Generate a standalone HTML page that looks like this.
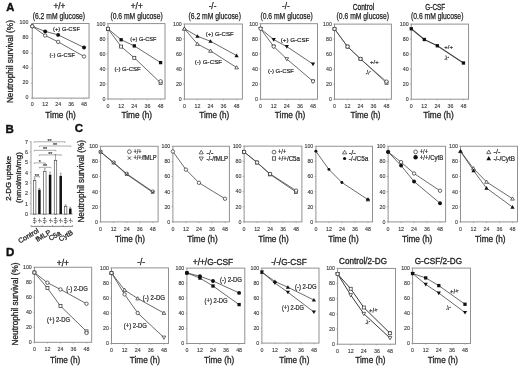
<!DOCTYPE html>
<html><head><meta charset="utf-8"><style>
html,body{margin:0;padding:0;background:#fff;width:520px;height:368px;overflow:hidden}
svg{display:block;font-family:"Liberation Sans", sans-serif;filter:blur(0.3px)}

</style></head><body>
<svg width="520" height="368" viewBox="0 0 520 368">
<rect width="520" height="368" fill="#fff"/>
<text x="10.30" y="11.30" font-size="11.2" text-anchor="middle" font-weight="bold" fill="#111" stroke="#111" stroke-width="0.4">A</text>
<text x="13.50" y="61.60" font-size="8.3" text-anchor="middle" fill="#262626" stroke="#262626" stroke-width="0.3" transform="rotate(-90 13.50 61.60)" textLength="83.00" lengthAdjust="spacingAndGlyphs">Neutrophil survival (%)</text>
<rect x="32.25" y="23.50" width="56.80" height="74.60" fill="none" stroke="#8c8c8c" stroke-width="0.95"/>
<line x1="30.95" y1="98.10" x2="32.25" y2="98.10" stroke="#8c8c8c" stroke-width="0.6"/>
<text x="28.45" y="98.80" font-size="5.3" text-anchor="end" fill="#3a3a3a" stroke="#3a3a3a" stroke-width="0.12">0</text>
<line x1="30.95" y1="83.18" x2="32.25" y2="83.18" stroke="#8c8c8c" stroke-width="0.6"/>
<text x="28.45" y="83.88" font-size="5.3" text-anchor="end" fill="#3a3a3a" stroke="#3a3a3a" stroke-width="0.12">20</text>
<line x1="30.95" y1="68.26" x2="32.25" y2="68.26" stroke="#8c8c8c" stroke-width="0.6"/>
<text x="28.45" y="68.96" font-size="5.3" text-anchor="end" fill="#3a3a3a" stroke="#3a3a3a" stroke-width="0.12">40</text>
<line x1="30.95" y1="53.34" x2="32.25" y2="53.34" stroke="#8c8c8c" stroke-width="0.6"/>
<text x="28.45" y="54.04" font-size="5.3" text-anchor="end" fill="#3a3a3a" stroke="#3a3a3a" stroke-width="0.12">60</text>
<line x1="30.95" y1="38.42" x2="32.25" y2="38.42" stroke="#8c8c8c" stroke-width="0.6"/>
<text x="28.45" y="39.12" font-size="5.3" text-anchor="end" fill="#3a3a3a" stroke="#3a3a3a" stroke-width="0.12">80</text>
<line x1="30.95" y1="23.50" x2="32.25" y2="23.50" stroke="#8c8c8c" stroke-width="0.6"/>
<text x="28.45" y="24.20" font-size="5.3" text-anchor="end" fill="#3a3a3a" stroke="#3a3a3a" stroke-width="0.12">100</text>
<line x1="32.25" y1="98.10" x2="32.25" y2="99.30" stroke="#8c8c8c" stroke-width="0.6"/>
<text x="32.25" y="106.30" font-size="5.3" text-anchor="middle" fill="#3a3a3a" stroke="#3a3a3a" stroke-width="0.12">0</text>
<line x1="45.20" y1="98.10" x2="45.20" y2="99.30" stroke="#8c8c8c" stroke-width="0.6"/>
<text x="45.20" y="106.30" font-size="5.3" text-anchor="middle" fill="#3a3a3a" stroke="#3a3a3a" stroke-width="0.12">12</text>
<line x1="58.15" y1="98.10" x2="58.15" y2="99.30" stroke="#8c8c8c" stroke-width="0.6"/>
<text x="58.15" y="106.30" font-size="5.3" text-anchor="middle" fill="#3a3a3a" stroke="#3a3a3a" stroke-width="0.12">24</text>
<line x1="71.10" y1="98.10" x2="71.10" y2="99.30" stroke="#8c8c8c" stroke-width="0.6"/>
<text x="71.10" y="106.30" font-size="5.3" text-anchor="middle" fill="#3a3a3a" stroke="#3a3a3a" stroke-width="0.12">36</text>
<line x1="84.05" y1="98.10" x2="84.05" y2="99.30" stroke="#8c8c8c" stroke-width="0.6"/>
<text x="84.05" y="106.30" font-size="5.3" text-anchor="middle" fill="#3a3a3a" stroke="#3a3a3a" stroke-width="0.12">48</text>
<text x="45.30" y="117.80" font-size="8.9" text-anchor="start" fill="#262626" stroke="#262626" stroke-width="0.3" textLength="30.50" lengthAdjust="spacingAndGlyphs">Time (h)</text>
<path d="M32.25,26.30 L45.20,31.40 L58.15,34.90 L84.05,47.50" fill="none" stroke="#3a3a3a" stroke-width="0.75"/>
<path d="M32.25,26.30 L45.20,35.50 L58.15,41.90 L84.05,56.50" fill="none" stroke="#3a3a3a" stroke-width="0.75"/>
<circle cx="32.25" cy="26.30" r="1.95" fill="#111"/>
<circle cx="45.20" cy="31.40" r="1.95" fill="#111"/>
<circle cx="58.15" cy="34.90" r="1.95" fill="#111"/>
<circle cx="84.05" cy="47.50" r="1.95" fill="#111"/>
<circle cx="32.25" cy="26.30" r="1.70" fill="#fff" stroke="#2a2a2a" stroke-width="0.7"/>
<circle cx="45.20" cy="35.50" r="1.70" fill="#fff" stroke="#2a2a2a" stroke-width="0.7"/>
<circle cx="58.15" cy="41.90" r="1.70" fill="#fff" stroke="#2a2a2a" stroke-width="0.7"/>
<circle cx="84.05" cy="56.50" r="1.70" fill="#fff" stroke="#2a2a2a" stroke-width="0.7"/>
<rect x="108.00" y="23.60" width="57.00" height="75.40" fill="none" stroke="#8c8c8c" stroke-width="0.95"/>
<line x1="106.70" y1="99.00" x2="108.00" y2="99.00" stroke="#8c8c8c" stroke-width="0.6"/>
<text x="105.40" y="100.90" font-size="5.3" text-anchor="end" fill="#3a3a3a" stroke="#3a3a3a" stroke-width="0.12">0</text>
<line x1="106.70" y1="83.92" x2="108.00" y2="83.92" stroke="#8c8c8c" stroke-width="0.6"/>
<text x="105.40" y="85.82" font-size="5.3" text-anchor="end" fill="#3a3a3a" stroke="#3a3a3a" stroke-width="0.12">20</text>
<line x1="106.70" y1="68.84" x2="108.00" y2="68.84" stroke="#8c8c8c" stroke-width="0.6"/>
<text x="105.40" y="70.74" font-size="5.3" text-anchor="end" fill="#3a3a3a" stroke="#3a3a3a" stroke-width="0.12">40</text>
<line x1="106.70" y1="53.76" x2="108.00" y2="53.76" stroke="#8c8c8c" stroke-width="0.6"/>
<text x="105.40" y="55.66" font-size="5.3" text-anchor="end" fill="#3a3a3a" stroke="#3a3a3a" stroke-width="0.12">60</text>
<line x1="106.70" y1="38.68" x2="108.00" y2="38.68" stroke="#8c8c8c" stroke-width="0.6"/>
<text x="105.40" y="40.58" font-size="5.3" text-anchor="end" fill="#3a3a3a" stroke="#3a3a3a" stroke-width="0.12">80</text>
<line x1="106.70" y1="23.60" x2="108.00" y2="23.60" stroke="#8c8c8c" stroke-width="0.6"/>
<text x="105.40" y="25.50" font-size="5.3" text-anchor="end" fill="#3a3a3a" stroke="#3a3a3a" stroke-width="0.12">100</text>
<line x1="108.00" y1="99.00" x2="108.00" y2="100.20" stroke="#8c8c8c" stroke-width="0.6"/>
<text x="108.00" y="107.80" font-size="5.3" text-anchor="middle" fill="#3a3a3a" stroke="#3a3a3a" stroke-width="0.12">0</text>
<line x1="121.15" y1="99.00" x2="121.15" y2="100.20" stroke="#8c8c8c" stroke-width="0.6"/>
<text x="121.15" y="107.80" font-size="5.3" text-anchor="middle" fill="#3a3a3a" stroke="#3a3a3a" stroke-width="0.12">12</text>
<line x1="134.30" y1="99.00" x2="134.30" y2="100.20" stroke="#8c8c8c" stroke-width="0.6"/>
<text x="134.30" y="107.80" font-size="5.3" text-anchor="middle" fill="#3a3a3a" stroke="#3a3a3a" stroke-width="0.12">24</text>
<line x1="147.45" y1="99.00" x2="147.45" y2="100.20" stroke="#8c8c8c" stroke-width="0.6"/>
<text x="147.45" y="107.80" font-size="5.3" text-anchor="middle" fill="#3a3a3a" stroke="#3a3a3a" stroke-width="0.12">36</text>
<line x1="160.60" y1="99.00" x2="160.60" y2="100.20" stroke="#8c8c8c" stroke-width="0.6"/>
<text x="160.60" y="107.80" font-size="5.3" text-anchor="middle" fill="#3a3a3a" stroke="#3a3a3a" stroke-width="0.12">48</text>
<text x="121.50" y="118.20" font-size="8.9" text-anchor="start" fill="#262626" stroke="#262626" stroke-width="0.3" textLength="30.50" lengthAdjust="spacingAndGlyphs">Time (h)</text>
<path d="M108.00,28.80 L121.15,39.75 L134.30,45.90 L160.60,62.60" fill="none" stroke="#3a3a3a" stroke-width="0.75"/>
<path d="M108.00,28.80 L121.15,46.60 L134.30,57.80 L160.60,82.90" fill="none" stroke="#3a3a3a" stroke-width="0.75"/>
<rect x="106.35" y="27.15" width="3.30" height="3.30" fill="#111"/>
<rect x="119.50" y="38.10" width="3.30" height="3.30" fill="#111"/>
<rect x="132.65" y="44.25" width="3.30" height="3.30" fill="#111"/>
<rect x="158.95" y="60.95" width="3.30" height="3.30" fill="#111"/>
<rect x="106.50" y="27.30" width="3.00" height="3.00" fill="#fff" stroke="#2a2a2a" stroke-width="0.7"/>
<rect x="119.65" y="45.10" width="3.00" height="3.00" fill="#fff" stroke="#2a2a2a" stroke-width="0.7"/>
<rect x="132.80" y="56.30" width="3.00" height="3.00" fill="#fff" stroke="#2a2a2a" stroke-width="0.7"/>
<rect x="159.10" y="81.40" width="3.00" height="3.00" fill="#fff" stroke="#2a2a2a" stroke-width="0.7"/>
<circle cx="108.00" cy="28.80" r="1.70" fill="#fff" stroke="#2a2a2a" stroke-width="0.7"/>
<circle cx="160.60" cy="81.30" r="1.70" fill="#fff" stroke="#2a2a2a" stroke-width="0.7"/>
<rect x="184.40" y="24.00" width="58.00" height="75.10" fill="none" stroke="#8c8c8c" stroke-width="0.95"/>
<line x1="183.10" y1="99.10" x2="184.40" y2="99.10" stroke="#8c8c8c" stroke-width="0.6"/>
<text x="181.80" y="101.00" font-size="5.3" text-anchor="end" fill="#3a3a3a" stroke="#3a3a3a" stroke-width="0.12">0</text>
<line x1="183.10" y1="84.08" x2="184.40" y2="84.08" stroke="#8c8c8c" stroke-width="0.6"/>
<text x="181.80" y="85.98" font-size="5.3" text-anchor="end" fill="#3a3a3a" stroke="#3a3a3a" stroke-width="0.12">20</text>
<line x1="183.10" y1="69.06" x2="184.40" y2="69.06" stroke="#8c8c8c" stroke-width="0.6"/>
<text x="181.80" y="70.96" font-size="5.3" text-anchor="end" fill="#3a3a3a" stroke="#3a3a3a" stroke-width="0.12">40</text>
<line x1="183.10" y1="54.04" x2="184.40" y2="54.04" stroke="#8c8c8c" stroke-width="0.6"/>
<text x="181.80" y="55.94" font-size="5.3" text-anchor="end" fill="#3a3a3a" stroke="#3a3a3a" stroke-width="0.12">60</text>
<line x1="183.10" y1="39.02" x2="184.40" y2="39.02" stroke="#8c8c8c" stroke-width="0.6"/>
<text x="181.80" y="40.92" font-size="5.3" text-anchor="end" fill="#3a3a3a" stroke="#3a3a3a" stroke-width="0.12">80</text>
<line x1="183.10" y1="24.00" x2="184.40" y2="24.00" stroke="#8c8c8c" stroke-width="0.6"/>
<text x="181.80" y="25.90" font-size="5.3" text-anchor="end" fill="#3a3a3a" stroke="#3a3a3a" stroke-width="0.12">100</text>
<line x1="184.40" y1="99.10" x2="184.40" y2="100.30" stroke="#8c8c8c" stroke-width="0.6"/>
<text x="184.40" y="107.90" font-size="5.3" text-anchor="middle" fill="#3a3a3a" stroke="#3a3a3a" stroke-width="0.12">0</text>
<line x1="197.45" y1="99.10" x2="197.45" y2="100.30" stroke="#8c8c8c" stroke-width="0.6"/>
<text x="197.45" y="107.90" font-size="5.3" text-anchor="middle" fill="#3a3a3a" stroke="#3a3a3a" stroke-width="0.12">12</text>
<line x1="210.50" y1="99.10" x2="210.50" y2="100.30" stroke="#8c8c8c" stroke-width="0.6"/>
<text x="210.50" y="107.90" font-size="5.3" text-anchor="middle" fill="#3a3a3a" stroke="#3a3a3a" stroke-width="0.12">24</text>
<line x1="223.55" y1="99.10" x2="223.55" y2="100.30" stroke="#8c8c8c" stroke-width="0.6"/>
<text x="223.55" y="107.90" font-size="5.3" text-anchor="middle" fill="#3a3a3a" stroke="#3a3a3a" stroke-width="0.12">36</text>
<line x1="236.60" y1="99.10" x2="236.60" y2="100.30" stroke="#8c8c8c" stroke-width="0.6"/>
<text x="236.60" y="107.90" font-size="5.3" text-anchor="middle" fill="#3a3a3a" stroke="#3a3a3a" stroke-width="0.12">48</text>
<text x="199.30" y="118.20" font-size="8.9" text-anchor="start" fill="#262626" stroke="#262626" stroke-width="0.3" textLength="30.00" lengthAdjust="spacingAndGlyphs">Time (h)</text>
<path d="M184.40,28.75 L197.45,36.25 L210.50,41.25 L236.60,55.60" fill="none" stroke="#3a3a3a" stroke-width="0.75"/>
<path d="M184.40,28.75 L197.45,44.00 L210.50,50.90 L236.60,67.50" fill="none" stroke="#3a3a3a" stroke-width="0.75"/>
<polygon points="184.40,26.65 186.50,30.32 182.30,30.32" fill="#111"/>
<polygon points="197.45,34.15 199.55,37.83 195.35,37.83" fill="#111"/>
<polygon points="210.50,39.15 212.60,42.83 208.40,42.83" fill="#111"/>
<polygon points="236.60,53.50 238.70,57.18 234.50,57.18" fill="#111"/>
<polygon points="184.40,26.90 186.25,30.14 182.55,30.14" fill="#fff" stroke="#2a2a2a" stroke-width="0.7"/>
<polygon points="197.45,42.15 199.30,45.39 195.60,45.39" fill="#fff" stroke="#2a2a2a" stroke-width="0.7"/>
<polygon points="210.50,49.05 212.35,52.29 208.65,52.29" fill="#fff" stroke="#2a2a2a" stroke-width="0.7"/>
<polygon points="236.60,65.65 238.45,68.89 234.75,68.89" fill="#fff" stroke="#2a2a2a" stroke-width="0.7"/>
<rect x="260.60" y="23.70" width="56.90" height="75.50" fill="none" stroke="#8c8c8c" stroke-width="0.95"/>
<line x1="259.30" y1="99.20" x2="260.60" y2="99.20" stroke="#8c8c8c" stroke-width="0.6"/>
<text x="258.00" y="101.10" font-size="5.3" text-anchor="end" fill="#3a3a3a" stroke="#3a3a3a" stroke-width="0.12">0</text>
<line x1="259.30" y1="84.10" x2="260.60" y2="84.10" stroke="#8c8c8c" stroke-width="0.6"/>
<text x="258.00" y="86.00" font-size="5.3" text-anchor="end" fill="#3a3a3a" stroke="#3a3a3a" stroke-width="0.12">20</text>
<line x1="259.30" y1="69.00" x2="260.60" y2="69.00" stroke="#8c8c8c" stroke-width="0.6"/>
<text x="258.00" y="70.90" font-size="5.3" text-anchor="end" fill="#3a3a3a" stroke="#3a3a3a" stroke-width="0.12">40</text>
<line x1="259.30" y1="53.90" x2="260.60" y2="53.90" stroke="#8c8c8c" stroke-width="0.6"/>
<text x="258.00" y="55.80" font-size="5.3" text-anchor="end" fill="#3a3a3a" stroke="#3a3a3a" stroke-width="0.12">60</text>
<line x1="259.30" y1="38.80" x2="260.60" y2="38.80" stroke="#8c8c8c" stroke-width="0.6"/>
<text x="258.00" y="40.70" font-size="5.3" text-anchor="end" fill="#3a3a3a" stroke="#3a3a3a" stroke-width="0.12">80</text>
<line x1="259.30" y1="23.70" x2="260.60" y2="23.70" stroke="#8c8c8c" stroke-width="0.6"/>
<text x="258.00" y="25.60" font-size="5.3" text-anchor="end" fill="#3a3a3a" stroke="#3a3a3a" stroke-width="0.12">100</text>
<line x1="260.60" y1="99.20" x2="260.60" y2="100.40" stroke="#8c8c8c" stroke-width="0.6"/>
<text x="260.60" y="108.00" font-size="5.3" text-anchor="middle" fill="#3a3a3a" stroke="#3a3a3a" stroke-width="0.12">0</text>
<line x1="273.70" y1="99.20" x2="273.70" y2="100.40" stroke="#8c8c8c" stroke-width="0.6"/>
<text x="273.70" y="108.00" font-size="5.3" text-anchor="middle" fill="#3a3a3a" stroke="#3a3a3a" stroke-width="0.12">12</text>
<line x1="286.80" y1="99.20" x2="286.80" y2="100.40" stroke="#8c8c8c" stroke-width="0.6"/>
<text x="286.80" y="108.00" font-size="5.3" text-anchor="middle" fill="#3a3a3a" stroke="#3a3a3a" stroke-width="0.12">24</text>
<line x1="299.90" y1="99.20" x2="299.90" y2="100.40" stroke="#8c8c8c" stroke-width="0.6"/>
<text x="299.90" y="108.00" font-size="5.3" text-anchor="middle" fill="#3a3a3a" stroke="#3a3a3a" stroke-width="0.12">36</text>
<line x1="313.00" y1="99.20" x2="313.00" y2="100.40" stroke="#8c8c8c" stroke-width="0.6"/>
<text x="313.00" y="108.00" font-size="5.3" text-anchor="middle" fill="#3a3a3a" stroke="#3a3a3a" stroke-width="0.12">48</text>
<text x="274.80" y="118.20" font-size="8.9" text-anchor="start" fill="#262626" stroke="#262626" stroke-width="0.3" textLength="30.50" lengthAdjust="spacingAndGlyphs">Time (h)</text>
<path d="M260.60,28.75 L273.70,39.60 L286.80,46.60 L313.00,64.10" fill="none" stroke="#3a3a3a" stroke-width="0.75"/>
<path d="M260.60,28.75 L273.70,46.50 L286.80,59.00 L313.00,81.30" fill="none" stroke="#3a3a3a" stroke-width="0.75"/>
<polygon points="260.60,30.85 262.70,27.18 258.50,27.18" fill="#111"/>
<polygon points="273.70,41.70 275.80,38.02 271.60,38.02" fill="#111"/>
<polygon points="286.80,48.70 288.90,45.02 284.70,45.02" fill="#111"/>
<polygon points="313.00,66.20 315.10,62.52 310.90,62.52" fill="#111"/>
<polygon points="260.60,30.60 262.45,27.36 258.75,27.36" fill="#fff" stroke="#2a2a2a" stroke-width="0.7"/>
<polygon points="273.70,48.35 275.55,45.11 271.85,45.11" fill="#fff" stroke="#2a2a2a" stroke-width="0.7"/>
<polygon points="286.80,60.85 288.65,57.61 284.95,57.61" fill="#fff" stroke="#2a2a2a" stroke-width="0.7"/>
<polygon points="313.00,83.15 314.85,79.91 311.15,79.91" fill="#fff" stroke="#2a2a2a" stroke-width="0.7"/>
<circle cx="260.60" cy="28.75" r="1.70" fill="#fff" stroke="#2a2a2a" stroke-width="0.7"/>
<circle cx="273.70" cy="46.50" r="1.70" fill="#fff" stroke="#2a2a2a" stroke-width="0.7"/>
<circle cx="313.00" cy="81.30" r="1.70" fill="#fff" stroke="#2a2a2a" stroke-width="0.7"/>
<rect x="334.50" y="24.10" width="56.90" height="75.10" fill="none" stroke="#8c8c8c" stroke-width="0.95"/>
<line x1="333.20" y1="99.20" x2="334.50" y2="99.20" stroke="#8c8c8c" stroke-width="0.6"/>
<text x="331.90" y="101.10" font-size="5.3" text-anchor="end" fill="#3a3a3a" stroke="#3a3a3a" stroke-width="0.12">0</text>
<line x1="333.20" y1="84.18" x2="334.50" y2="84.18" stroke="#8c8c8c" stroke-width="0.6"/>
<text x="331.90" y="86.08" font-size="5.3" text-anchor="end" fill="#3a3a3a" stroke="#3a3a3a" stroke-width="0.12">20</text>
<line x1="333.20" y1="69.16" x2="334.50" y2="69.16" stroke="#8c8c8c" stroke-width="0.6"/>
<text x="331.90" y="71.06" font-size="5.3" text-anchor="end" fill="#3a3a3a" stroke="#3a3a3a" stroke-width="0.12">40</text>
<line x1="333.20" y1="54.14" x2="334.50" y2="54.14" stroke="#8c8c8c" stroke-width="0.6"/>
<text x="331.90" y="56.04" font-size="5.3" text-anchor="end" fill="#3a3a3a" stroke="#3a3a3a" stroke-width="0.12">60</text>
<line x1="333.20" y1="39.12" x2="334.50" y2="39.12" stroke="#8c8c8c" stroke-width="0.6"/>
<text x="331.90" y="41.02" font-size="5.3" text-anchor="end" fill="#3a3a3a" stroke="#3a3a3a" stroke-width="0.12">80</text>
<line x1="333.20" y1="24.10" x2="334.50" y2="24.10" stroke="#8c8c8c" stroke-width="0.6"/>
<text x="331.90" y="26.00" font-size="5.3" text-anchor="end" fill="#3a3a3a" stroke="#3a3a3a" stroke-width="0.12">100</text>
<line x1="334.50" y1="99.20" x2="334.50" y2="100.40" stroke="#8c8c8c" stroke-width="0.6"/>
<text x="334.50" y="108.00" font-size="5.3" text-anchor="middle" fill="#3a3a3a" stroke="#3a3a3a" stroke-width="0.12">0</text>
<line x1="347.50" y1="99.20" x2="347.50" y2="100.40" stroke="#8c8c8c" stroke-width="0.6"/>
<text x="347.50" y="108.00" font-size="5.3" text-anchor="middle" fill="#3a3a3a" stroke="#3a3a3a" stroke-width="0.12">12</text>
<line x1="360.50" y1="99.20" x2="360.50" y2="100.40" stroke="#8c8c8c" stroke-width="0.6"/>
<text x="360.50" y="108.00" font-size="5.3" text-anchor="middle" fill="#3a3a3a" stroke="#3a3a3a" stroke-width="0.12">24</text>
<line x1="373.50" y1="99.20" x2="373.50" y2="100.40" stroke="#8c8c8c" stroke-width="0.6"/>
<text x="373.50" y="108.00" font-size="5.3" text-anchor="middle" fill="#3a3a3a" stroke="#3a3a3a" stroke-width="0.12">36</text>
<line x1="386.50" y1="99.20" x2="386.50" y2="100.40" stroke="#8c8c8c" stroke-width="0.6"/>
<text x="386.50" y="108.00" font-size="5.3" text-anchor="middle" fill="#3a3a3a" stroke="#3a3a3a" stroke-width="0.12">48</text>
<text x="350.60" y="118.20" font-size="8.9" text-anchor="start" fill="#262626" stroke="#262626" stroke-width="0.3" textLength="30.00" lengthAdjust="spacingAndGlyphs">Time (h)</text>
<path d="M334.50,28.90 L347.50,46.60 L360.50,58.90 L386.50,82.80" fill="none" stroke="#3a3a3a" stroke-width="0.8"/>
<path d="M334.50,28.90 L347.50,46.60 L360.50,58.90 L386.50,81.60" fill="none" stroke="#3a3a3a" stroke-width="0.6"/>
<rect x="333.00" y="27.40" width="3.00" height="3.00" fill="#fff" stroke="#2a2a2a" stroke-width="0.7"/>
<rect x="346.00" y="45.10" width="3.00" height="3.00" fill="#fff" stroke="#2a2a2a" stroke-width="0.7"/>
<rect x="359.00" y="57.40" width="3.00" height="3.00" fill="#fff" stroke="#2a2a2a" stroke-width="0.7"/>
<rect x="385.00" y="81.30" width="3.00" height="3.00" fill="#fff" stroke="#2a2a2a" stroke-width="0.7"/>
<circle cx="334.50" cy="28.90" r="1.70" fill="#fff" stroke="#2a2a2a" stroke-width="0.7"/>
<circle cx="347.50" cy="46.60" r="1.70" fill="#fff" stroke="#2a2a2a" stroke-width="0.7"/>
<circle cx="360.50" cy="58.90" r="1.70" fill="#fff" stroke="#2a2a2a" stroke-width="0.7"/>
<circle cx="386.50" cy="81.60" r="1.70" fill="#fff" stroke="#2a2a2a" stroke-width="0.7"/>
<rect x="411.25" y="24.10" width="57.30" height="75.10" fill="none" stroke="#8c8c8c" stroke-width="0.95"/>
<line x1="409.95" y1="99.20" x2="411.25" y2="99.20" stroke="#8c8c8c" stroke-width="0.6"/>
<text x="408.65" y="101.10" font-size="5.3" text-anchor="end" fill="#3a3a3a" stroke="#3a3a3a" stroke-width="0.12">0</text>
<line x1="409.95" y1="84.18" x2="411.25" y2="84.18" stroke="#8c8c8c" stroke-width="0.6"/>
<text x="408.65" y="86.08" font-size="5.3" text-anchor="end" fill="#3a3a3a" stroke="#3a3a3a" stroke-width="0.12">20</text>
<line x1="409.95" y1="69.16" x2="411.25" y2="69.16" stroke="#8c8c8c" stroke-width="0.6"/>
<text x="408.65" y="71.06" font-size="5.3" text-anchor="end" fill="#3a3a3a" stroke="#3a3a3a" stroke-width="0.12">40</text>
<line x1="409.95" y1="54.14" x2="411.25" y2="54.14" stroke="#8c8c8c" stroke-width="0.6"/>
<text x="408.65" y="56.04" font-size="5.3" text-anchor="end" fill="#3a3a3a" stroke="#3a3a3a" stroke-width="0.12">60</text>
<line x1="409.95" y1="39.12" x2="411.25" y2="39.12" stroke="#8c8c8c" stroke-width="0.6"/>
<text x="408.65" y="41.02" font-size="5.3" text-anchor="end" fill="#3a3a3a" stroke="#3a3a3a" stroke-width="0.12">80</text>
<line x1="409.95" y1="24.10" x2="411.25" y2="24.10" stroke="#8c8c8c" stroke-width="0.6"/>
<text x="408.65" y="26.00" font-size="5.3" text-anchor="end" fill="#3a3a3a" stroke="#3a3a3a" stroke-width="0.12">100</text>
<line x1="411.25" y1="99.20" x2="411.25" y2="100.40" stroke="#8c8c8c" stroke-width="0.6"/>
<text x="411.25" y="108.00" font-size="5.3" text-anchor="middle" fill="#3a3a3a" stroke="#3a3a3a" stroke-width="0.12">0</text>
<line x1="424.30" y1="99.20" x2="424.30" y2="100.40" stroke="#8c8c8c" stroke-width="0.6"/>
<text x="424.30" y="108.00" font-size="5.3" text-anchor="middle" fill="#3a3a3a" stroke="#3a3a3a" stroke-width="0.12">12</text>
<line x1="437.35" y1="99.20" x2="437.35" y2="100.40" stroke="#8c8c8c" stroke-width="0.6"/>
<text x="437.35" y="108.00" font-size="5.3" text-anchor="middle" fill="#3a3a3a" stroke="#3a3a3a" stroke-width="0.12">24</text>
<line x1="450.40" y1="99.20" x2="450.40" y2="100.40" stroke="#8c8c8c" stroke-width="0.6"/>
<text x="450.40" y="108.00" font-size="5.3" text-anchor="middle" fill="#3a3a3a" stroke="#3a3a3a" stroke-width="0.12">36</text>
<line x1="463.45" y1="99.20" x2="463.45" y2="100.40" stroke="#8c8c8c" stroke-width="0.6"/>
<text x="463.45" y="108.00" font-size="5.3" text-anchor="middle" fill="#3a3a3a" stroke="#3a3a3a" stroke-width="0.12">48</text>
<text x="423.20" y="118.20" font-size="8.9" text-anchor="start" fill="#262626" stroke="#262626" stroke-width="0.3" textLength="30.50" lengthAdjust="spacingAndGlyphs">Time (h)</text>
<path d="M411.25,28.75 L424.30,39.50 L437.35,45.75 L463.45,63.00" fill="none" stroke="#3a3a3a" stroke-width="1.05"/>
<rect x="409.60" y="27.10" width="3.30" height="3.30" fill="#111"/>
<rect x="422.65" y="37.85" width="3.30" height="3.30" fill="#111"/>
<rect x="435.70" y="44.10" width="3.30" height="3.30" fill="#111"/>
<rect x="461.80" y="61.35" width="3.30" height="3.30" fill="#111"/>
<text x="59.40" y="9.30" font-size="8.2" text-anchor="middle" fill="#222" stroke="#222" stroke-width="0.25">+/+</text>
<text x="58.90" y="18.80" font-size="8.4" text-anchor="middle" fill="#222" stroke="#222" stroke-width="0.25" textLength="52.40" lengthAdjust="spacingAndGlyphs">(6.2 mM glucose)</text>
<text x="136.75" y="9.30" font-size="8.2" text-anchor="middle" fill="#222" stroke="#222" stroke-width="0.25">+/+</text>
<text x="136.60" y="18.80" font-size="8.4" text-anchor="middle" fill="#222" stroke="#222" stroke-width="0.25" textLength="52.40" lengthAdjust="spacingAndGlyphs">(0.6 mM glucose)</text>
<text x="212.50" y="9.30" font-size="8.2" text-anchor="middle" fill="#222" stroke="#222" stroke-width="0.25">-/-</text>
<text x="214.70" y="18.80" font-size="8.4" text-anchor="middle" fill="#222" stroke="#222" stroke-width="0.25" textLength="52.40" lengthAdjust="spacingAndGlyphs">(6.2 mM glucose)</text>
<text x="285.90" y="9.30" font-size="8.2" text-anchor="middle" fill="#222" stroke="#222" stroke-width="0.25">-/-</text>
<text x="286.60" y="18.80" font-size="8.4" text-anchor="middle" fill="#222" stroke="#222" stroke-width="0.25" textLength="52.40" lengthAdjust="spacingAndGlyphs">(0.6 mM glucose)</text>
<text x="363.40" y="10.00" font-size="8.7" text-anchor="middle" fill="#222" stroke="#222" stroke-width="0.3" textLength="21.50" lengthAdjust="spacingAndGlyphs">Control</text>
<text x="362.80" y="18.80" font-size="8.4" text-anchor="middle" fill="#222" stroke="#222" stroke-width="0.25" textLength="52.40" lengthAdjust="spacingAndGlyphs">(0.6 mM glucose)</text>
<text x="435.30" y="10.00" font-size="8.7" text-anchor="middle" fill="#222" stroke="#222" stroke-width="0.3" textLength="20.00" lengthAdjust="spacingAndGlyphs">G-CSF</text>
<text x="437.20" y="18.80" font-size="8.4" text-anchor="middle" fill="#222" stroke="#222" stroke-width="0.25" textLength="52.40" lengthAdjust="spacingAndGlyphs">(0.6 mM glucose)</text>
<text x="53.00" y="31.40" font-size="6.1" text-anchor="start" fill="#262626" stroke="#262626" stroke-width="0.2" textLength="27.00" lengthAdjust="spacingAndGlyphs">(+) G-CSF</text>
<text x="49.60" y="57.00" font-size="6.1" text-anchor="start" fill="#262626" stroke="#262626" stroke-width="0.2" textLength="25.60" lengthAdjust="spacingAndGlyphs">(-) G-CSF</text>
<text x="130.30" y="41.40" font-size="6.1" text-anchor="start" fill="#262626" stroke="#262626" stroke-width="0.2" textLength="26.20" lengthAdjust="spacingAndGlyphs">(+) G-CSF</text>
<text x="114.40" y="70.80" font-size="6.1" text-anchor="start" fill="#262626" stroke="#262626" stroke-width="0.2" textLength="26.40" lengthAdjust="spacingAndGlyphs">(-) G-CSF</text>
<text x="205.70" y="36.30" font-size="6.1" text-anchor="start" fill="#262626" stroke="#262626" stroke-width="0.2" textLength="28.00" lengthAdjust="spacingAndGlyphs">(+) G-CSF</text>
<text x="194.70" y="63.50" font-size="6.1" text-anchor="start" fill="#262626" stroke="#262626" stroke-width="0.2" textLength="27.50" lengthAdjust="spacingAndGlyphs">(-) G-CSF</text>
<text x="280.80" y="41.60" font-size="6.1" text-anchor="start" fill="#262626" stroke="#262626" stroke-width="0.2" textLength="28.50" lengthAdjust="spacingAndGlyphs">(+) G-CSF</text>
<text x="268.00" y="72.80" font-size="6.1" text-anchor="start" fill="#262626" stroke="#262626" stroke-width="0.2" textLength="26.00" lengthAdjust="spacingAndGlyphs">(-) G-CSF</text>
<text x="374.40" y="64.40" font-size="6.0" text-anchor="middle" fill="#262626" stroke="#262626" stroke-width="0.2">+/+</text>
<text x="369.00" y="74.20" font-size="6.0" text-anchor="middle" fill="#262626" stroke="#262626" stroke-width="0.2" transform="rotate(-30 369.00 74.20)">-/-</text>
<text x="448.70" y="49.10" font-size="6.0" text-anchor="middle" fill="#262626" stroke="#262626" stroke-width="0.2">+/+</text>
<text x="447.60" y="59.60" font-size="6.0" text-anchor="middle" fill="#262626" stroke="#262626" stroke-width="0.2" transform="rotate(-30 447.60 59.60)">-/-</text>
<text x="79.00" y="131.80" font-size="11.5" text-anchor="middle" font-weight="bold" fill="#111" stroke="#111" stroke-width="0.4">C</text>
<text x="84.30" y="181.30" font-size="8.3" text-anchor="middle" fill="#262626" stroke="#262626" stroke-width="0.3" transform="rotate(-90 84.30 181.30)" textLength="82.50" lengthAdjust="spacingAndGlyphs">Neutrophil survival (%)</text>
<rect x="100.60" y="146.25" width="57.50" height="75.65" fill="none" stroke="#8c8c8c" stroke-width="0.95"/>
<line x1="99.30" y1="221.90" x2="100.60" y2="221.90" stroke="#8c8c8c" stroke-width="0.6"/>
<text x="98.00" y="223.80" font-size="5.3" text-anchor="end" fill="#3a3a3a" stroke="#3a3a3a" stroke-width="0.12">0</text>
<line x1="99.30" y1="206.77" x2="100.60" y2="206.77" stroke="#8c8c8c" stroke-width="0.6"/>
<text x="98.00" y="208.67" font-size="5.3" text-anchor="end" fill="#3a3a3a" stroke="#3a3a3a" stroke-width="0.12">20</text>
<line x1="99.30" y1="191.64" x2="100.60" y2="191.64" stroke="#8c8c8c" stroke-width="0.6"/>
<text x="98.00" y="193.54" font-size="5.3" text-anchor="end" fill="#3a3a3a" stroke="#3a3a3a" stroke-width="0.12">40</text>
<line x1="99.30" y1="176.51" x2="100.60" y2="176.51" stroke="#8c8c8c" stroke-width="0.6"/>
<text x="98.00" y="178.41" font-size="5.3" text-anchor="end" fill="#3a3a3a" stroke="#3a3a3a" stroke-width="0.12">60</text>
<line x1="99.30" y1="161.38" x2="100.60" y2="161.38" stroke="#8c8c8c" stroke-width="0.6"/>
<text x="98.00" y="163.28" font-size="5.3" text-anchor="end" fill="#3a3a3a" stroke="#3a3a3a" stroke-width="0.12">80</text>
<line x1="99.30" y1="146.25" x2="100.60" y2="146.25" stroke="#8c8c8c" stroke-width="0.6"/>
<text x="98.00" y="148.15" font-size="5.3" text-anchor="end" fill="#3a3a3a" stroke="#3a3a3a" stroke-width="0.12">100</text>
<line x1="100.60" y1="221.90" x2="100.60" y2="223.10" stroke="#8c8c8c" stroke-width="0.6"/>
<text x="100.60" y="230.50" font-size="5.3" text-anchor="middle" fill="#3a3a3a" stroke="#3a3a3a" stroke-width="0.12">0</text>
<line x1="113.64" y1="221.90" x2="113.64" y2="223.10" stroke="#8c8c8c" stroke-width="0.6"/>
<text x="113.64" y="230.50" font-size="5.3" text-anchor="middle" fill="#3a3a3a" stroke="#3a3a3a" stroke-width="0.12">12</text>
<line x1="126.68" y1="221.90" x2="126.68" y2="223.10" stroke="#8c8c8c" stroke-width="0.6"/>
<text x="126.68" y="230.50" font-size="5.3" text-anchor="middle" fill="#3a3a3a" stroke="#3a3a3a" stroke-width="0.12">24</text>
<line x1="139.72" y1="221.90" x2="139.72" y2="223.10" stroke="#8c8c8c" stroke-width="0.6"/>
<text x="139.72" y="230.50" font-size="5.3" text-anchor="middle" fill="#3a3a3a" stroke="#3a3a3a" stroke-width="0.12">36</text>
<line x1="152.76" y1="221.90" x2="152.76" y2="223.10" stroke="#8c8c8c" stroke-width="0.6"/>
<text x="152.76" y="230.50" font-size="5.3" text-anchor="middle" fill="#3a3a3a" stroke="#3a3a3a" stroke-width="0.12">48</text>
<text x="115.00" y="241.80" font-size="8.9" text-anchor="start" fill="#262626" stroke="#262626" stroke-width="0.3" textLength="30.00" lengthAdjust="spacingAndGlyphs">Time (h)</text>
<path d="M100.60,151.90 L113.64,162.50 L126.68,173.75 L152.76,191.60" fill="none" stroke="#3a3a3a" stroke-width="0.75"/>
<path d="M100.60,151.90 L113.64,162.90 L126.68,174.40 L152.76,192.40" fill="none" stroke="#3a3a3a" stroke-width="0.75"/>
<circle cx="100.60" cy="151.90" r="1.70" fill="#fff" stroke="#2a2a2a" stroke-width="0.7"/>
<circle cx="113.64" cy="162.50" r="1.70" fill="#fff" stroke="#2a2a2a" stroke-width="0.7"/>
<circle cx="126.68" cy="173.75" r="1.70" fill="#fff" stroke="#2a2a2a" stroke-width="0.7"/>
<circle cx="152.76" cy="191.60" r="1.70" fill="#fff" stroke="#2a2a2a" stroke-width="0.7"/>
<path d="M99.10,150.40L102.10,153.40M99.10,153.40L102.10,150.40" stroke="#111" stroke-width="0.7" fill="none"/>
<path d="M112.14,161.40L115.14,164.40M112.14,164.40L115.14,161.40" stroke="#111" stroke-width="0.7" fill="none"/>
<path d="M125.18,172.90L128.18,175.90M125.18,175.90L128.18,172.90" stroke="#111" stroke-width="0.7" fill="none"/>
<path d="M151.26,190.90L154.26,193.90M151.26,193.90L154.26,190.90" stroke="#111" stroke-width="0.7" fill="none"/>
<rect x="172.90" y="146.25" width="56.50" height="75.65" fill="none" stroke="#8c8c8c" stroke-width="0.95"/>
<line x1="171.60" y1="221.90" x2="172.90" y2="221.90" stroke="#8c8c8c" stroke-width="0.6"/>
<text x="170.30" y="223.80" font-size="5.3" text-anchor="end" fill="#3a3a3a" stroke="#3a3a3a" stroke-width="0.12">0</text>
<line x1="171.60" y1="206.77" x2="172.90" y2="206.77" stroke="#8c8c8c" stroke-width="0.6"/>
<text x="170.30" y="208.67" font-size="5.3" text-anchor="end" fill="#3a3a3a" stroke="#3a3a3a" stroke-width="0.12">20</text>
<line x1="171.60" y1="191.64" x2="172.90" y2="191.64" stroke="#8c8c8c" stroke-width="0.6"/>
<text x="170.30" y="193.54" font-size="5.3" text-anchor="end" fill="#3a3a3a" stroke="#3a3a3a" stroke-width="0.12">40</text>
<line x1="171.60" y1="176.51" x2="172.90" y2="176.51" stroke="#8c8c8c" stroke-width="0.6"/>
<text x="170.30" y="178.41" font-size="5.3" text-anchor="end" fill="#3a3a3a" stroke="#3a3a3a" stroke-width="0.12">60</text>
<line x1="171.60" y1="161.38" x2="172.90" y2="161.38" stroke="#8c8c8c" stroke-width="0.6"/>
<text x="170.30" y="163.28" font-size="5.3" text-anchor="end" fill="#3a3a3a" stroke="#3a3a3a" stroke-width="0.12">80</text>
<line x1="171.60" y1="146.25" x2="172.90" y2="146.25" stroke="#8c8c8c" stroke-width="0.6"/>
<text x="170.30" y="148.15" font-size="5.3" text-anchor="end" fill="#3a3a3a" stroke="#3a3a3a" stroke-width="0.12">100</text>
<line x1="172.90" y1="221.90" x2="172.90" y2="223.10" stroke="#8c8c8c" stroke-width="0.6"/>
<text x="172.90" y="230.50" font-size="5.3" text-anchor="middle" fill="#3a3a3a" stroke="#3a3a3a" stroke-width="0.12">0</text>
<line x1="185.93" y1="221.90" x2="185.93" y2="223.10" stroke="#8c8c8c" stroke-width="0.6"/>
<text x="185.93" y="230.50" font-size="5.3" text-anchor="middle" fill="#3a3a3a" stroke="#3a3a3a" stroke-width="0.12">12</text>
<line x1="198.96" y1="221.90" x2="198.96" y2="223.10" stroke="#8c8c8c" stroke-width="0.6"/>
<text x="198.96" y="230.50" font-size="5.3" text-anchor="middle" fill="#3a3a3a" stroke="#3a3a3a" stroke-width="0.12">24</text>
<line x1="211.99" y1="221.90" x2="211.99" y2="223.10" stroke="#8c8c8c" stroke-width="0.6"/>
<text x="211.99" y="230.50" font-size="5.3" text-anchor="middle" fill="#3a3a3a" stroke="#3a3a3a" stroke-width="0.12">36</text>
<line x1="225.02" y1="221.90" x2="225.02" y2="223.10" stroke="#8c8c8c" stroke-width="0.6"/>
<text x="225.02" y="230.50" font-size="5.3" text-anchor="middle" fill="#3a3a3a" stroke="#3a3a3a" stroke-width="0.12">48</text>
<text x="187.20" y="241.80" font-size="8.9" text-anchor="start" fill="#262626" stroke="#262626" stroke-width="0.3" textLength="30.50" lengthAdjust="spacingAndGlyphs">Time (h)</text>
<path d="M172.90,151.50 L185.93,169.60 L198.96,182.80 L225.02,198.75" fill="none" stroke="#3a3a3a" stroke-width="0.75"/>
<circle cx="172.90" cy="151.50" r="1.70" fill="#fff" stroke="#2a2a2a" stroke-width="0.7"/>
<circle cx="185.93" cy="169.60" r="1.70" fill="#fff" stroke="#2a2a2a" stroke-width="0.7"/>
<circle cx="198.96" cy="182.80" r="1.70" fill="#fff" stroke="#2a2a2a" stroke-width="0.7"/>
<circle cx="225.02" cy="198.75" r="1.70" fill="#fff" stroke="#2a2a2a" stroke-width="0.7"/>
<rect x="244.10" y="146.10" width="57.80" height="75.80" fill="none" stroke="#8c8c8c" stroke-width="0.95"/>
<line x1="242.80" y1="221.90" x2="244.10" y2="221.90" stroke="#8c8c8c" stroke-width="0.6"/>
<text x="241.50" y="223.80" font-size="5.3" text-anchor="end" fill="#3a3a3a" stroke="#3a3a3a" stroke-width="0.12">0</text>
<line x1="242.80" y1="206.74" x2="244.10" y2="206.74" stroke="#8c8c8c" stroke-width="0.6"/>
<text x="241.50" y="208.64" font-size="5.3" text-anchor="end" fill="#3a3a3a" stroke="#3a3a3a" stroke-width="0.12">20</text>
<line x1="242.80" y1="191.58" x2="244.10" y2="191.58" stroke="#8c8c8c" stroke-width="0.6"/>
<text x="241.50" y="193.48" font-size="5.3" text-anchor="end" fill="#3a3a3a" stroke="#3a3a3a" stroke-width="0.12">40</text>
<line x1="242.80" y1="176.42" x2="244.10" y2="176.42" stroke="#8c8c8c" stroke-width="0.6"/>
<text x="241.50" y="178.32" font-size="5.3" text-anchor="end" fill="#3a3a3a" stroke="#3a3a3a" stroke-width="0.12">60</text>
<line x1="242.80" y1="161.26" x2="244.10" y2="161.26" stroke="#8c8c8c" stroke-width="0.6"/>
<text x="241.50" y="163.16" font-size="5.3" text-anchor="end" fill="#3a3a3a" stroke="#3a3a3a" stroke-width="0.12">80</text>
<line x1="242.80" y1="146.10" x2="244.10" y2="146.10" stroke="#8c8c8c" stroke-width="0.6"/>
<text x="241.50" y="148.00" font-size="5.3" text-anchor="end" fill="#3a3a3a" stroke="#3a3a3a" stroke-width="0.12">100</text>
<line x1="244.10" y1="221.90" x2="244.10" y2="223.10" stroke="#8c8c8c" stroke-width="0.6"/>
<text x="244.10" y="230.50" font-size="5.3" text-anchor="middle" fill="#3a3a3a" stroke="#3a3a3a" stroke-width="0.12">0</text>
<line x1="257.10" y1="221.90" x2="257.10" y2="223.10" stroke="#8c8c8c" stroke-width="0.6"/>
<text x="257.10" y="230.50" font-size="5.3" text-anchor="middle" fill="#3a3a3a" stroke="#3a3a3a" stroke-width="0.12">12</text>
<line x1="270.10" y1="221.90" x2="270.10" y2="223.10" stroke="#8c8c8c" stroke-width="0.6"/>
<text x="270.10" y="230.50" font-size="5.3" text-anchor="middle" fill="#3a3a3a" stroke="#3a3a3a" stroke-width="0.12">24</text>
<line x1="283.10" y1="221.90" x2="283.10" y2="223.10" stroke="#8c8c8c" stroke-width="0.6"/>
<text x="283.10" y="230.50" font-size="5.3" text-anchor="middle" fill="#3a3a3a" stroke="#3a3a3a" stroke-width="0.12">36</text>
<line x1="296.10" y1="221.90" x2="296.10" y2="223.10" stroke="#8c8c8c" stroke-width="0.6"/>
<text x="296.10" y="230.50" font-size="5.3" text-anchor="middle" fill="#3a3a3a" stroke="#3a3a3a" stroke-width="0.12">48</text>
<text x="258.30" y="241.80" font-size="8.9" text-anchor="start" fill="#262626" stroke="#262626" stroke-width="0.3" textLength="30.50" lengthAdjust="spacingAndGlyphs">Time (h)</text>
<path d="M244.10,151.90 L257.10,162.50 L270.10,174.40 L296.10,192.00" fill="none" stroke="#3a3a3a" stroke-width="0.75"/>
<path d="M244.10,151.90 L257.10,162.50 L270.10,173.90 L296.10,190.60" fill="none" stroke="#3a3a3a" stroke-width="0.75"/>
<rect x="242.60" y="150.40" width="3.00" height="3.00" fill="#fff" stroke="#2a2a2a" stroke-width="0.7"/>
<rect x="255.60" y="161.00" width="3.00" height="3.00" fill="#fff" stroke="#2a2a2a" stroke-width="0.7"/>
<rect x="268.60" y="172.90" width="3.00" height="3.00" fill="#fff" stroke="#2a2a2a" stroke-width="0.7"/>
<rect x="294.60" y="190.50" width="3.00" height="3.00" fill="#fff" stroke="#2a2a2a" stroke-width="0.7"/>
<circle cx="244.10" cy="151.90" r="1.70" fill="#fff" stroke="#2a2a2a" stroke-width="0.7"/>
<circle cx="257.10" cy="162.50" r="1.70" fill="#fff" stroke="#2a2a2a" stroke-width="0.7"/>
<circle cx="270.10" cy="173.90" r="1.70" fill="#fff" stroke="#2a2a2a" stroke-width="0.7"/>
<circle cx="296.10" cy="190.60" r="1.70" fill="#fff" stroke="#2a2a2a" stroke-width="0.7"/>
<rect x="315.90" y="146.25" width="56.60" height="75.65" fill="none" stroke="#8c8c8c" stroke-width="0.95"/>
<line x1="314.60" y1="221.90" x2="315.90" y2="221.90" stroke="#8c8c8c" stroke-width="0.6"/>
<text x="313.30" y="223.80" font-size="5.3" text-anchor="end" fill="#3a3a3a" stroke="#3a3a3a" stroke-width="0.12">0</text>
<line x1="314.60" y1="206.77" x2="315.90" y2="206.77" stroke="#8c8c8c" stroke-width="0.6"/>
<text x="313.30" y="208.67" font-size="5.3" text-anchor="end" fill="#3a3a3a" stroke="#3a3a3a" stroke-width="0.12">20</text>
<line x1="314.60" y1="191.64" x2="315.90" y2="191.64" stroke="#8c8c8c" stroke-width="0.6"/>
<text x="313.30" y="193.54" font-size="5.3" text-anchor="end" fill="#3a3a3a" stroke="#3a3a3a" stroke-width="0.12">40</text>
<line x1="314.60" y1="176.51" x2="315.90" y2="176.51" stroke="#8c8c8c" stroke-width="0.6"/>
<text x="313.30" y="178.41" font-size="5.3" text-anchor="end" fill="#3a3a3a" stroke="#3a3a3a" stroke-width="0.12">60</text>
<line x1="314.60" y1="161.38" x2="315.90" y2="161.38" stroke="#8c8c8c" stroke-width="0.6"/>
<text x="313.30" y="163.28" font-size="5.3" text-anchor="end" fill="#3a3a3a" stroke="#3a3a3a" stroke-width="0.12">80</text>
<line x1="314.60" y1="146.25" x2="315.90" y2="146.25" stroke="#8c8c8c" stroke-width="0.6"/>
<text x="313.30" y="148.15" font-size="5.3" text-anchor="end" fill="#3a3a3a" stroke="#3a3a3a" stroke-width="0.12">100</text>
<line x1="315.90" y1="221.90" x2="315.90" y2="223.10" stroke="#8c8c8c" stroke-width="0.6"/>
<text x="315.90" y="230.50" font-size="5.3" text-anchor="middle" fill="#3a3a3a" stroke="#3a3a3a" stroke-width="0.12">0</text>
<line x1="328.90" y1="221.90" x2="328.90" y2="223.10" stroke="#8c8c8c" stroke-width="0.6"/>
<text x="328.90" y="230.50" font-size="5.3" text-anchor="middle" fill="#3a3a3a" stroke="#3a3a3a" stroke-width="0.12">12</text>
<line x1="341.90" y1="221.90" x2="341.90" y2="223.10" stroke="#8c8c8c" stroke-width="0.6"/>
<text x="341.90" y="230.50" font-size="5.3" text-anchor="middle" fill="#3a3a3a" stroke="#3a3a3a" stroke-width="0.12">24</text>
<line x1="354.90" y1="221.90" x2="354.90" y2="223.10" stroke="#8c8c8c" stroke-width="0.6"/>
<text x="354.90" y="230.50" font-size="5.3" text-anchor="middle" fill="#3a3a3a" stroke="#3a3a3a" stroke-width="0.12">36</text>
<line x1="367.90" y1="221.90" x2="367.90" y2="223.10" stroke="#8c8c8c" stroke-width="0.6"/>
<text x="367.90" y="230.50" font-size="5.3" text-anchor="middle" fill="#3a3a3a" stroke="#3a3a3a" stroke-width="0.12">48</text>
<text x="328.20" y="241.80" font-size="8.9" text-anchor="start" fill="#262626" stroke="#262626" stroke-width="0.3" textLength="30.50" lengthAdjust="spacingAndGlyphs">Time (h)</text>
<path d="M315.90,151.25 L328.90,169.40 L341.90,182.50 L367.90,199.60" fill="none" stroke="#3a3a3a" stroke-width="0.75"/>
<circle cx="315.90" cy="151.25" r="1.45" fill="#111"/>
<circle cx="328.90" cy="169.40" r="1.45" fill="#111"/>
<circle cx="341.90" cy="182.50" r="1.45" fill="#111"/>
<circle cx="367.90" cy="199.60" r="1.45" fill="#111"/>
<polygon points="367.90,197.75 369.75,200.99 366.05,200.99" fill="#fff" stroke="#2a2a2a" stroke-width="0.7"/>
<circle cx="367.90" cy="199.60" r="1.45" fill="#111"/>
<rect x="388.10" y="146.25" width="57.50" height="75.65" fill="none" stroke="#8c8c8c" stroke-width="0.95"/>
<line x1="386.80" y1="221.90" x2="388.10" y2="221.90" stroke="#8c8c8c" stroke-width="0.6"/>
<text x="385.50" y="223.80" font-size="5.3" text-anchor="end" fill="#3a3a3a" stroke="#3a3a3a" stroke-width="0.12">0</text>
<line x1="386.80" y1="206.77" x2="388.10" y2="206.77" stroke="#8c8c8c" stroke-width="0.6"/>
<text x="385.50" y="208.67" font-size="5.3" text-anchor="end" fill="#3a3a3a" stroke="#3a3a3a" stroke-width="0.12">20</text>
<line x1="386.80" y1="191.64" x2="388.10" y2="191.64" stroke="#8c8c8c" stroke-width="0.6"/>
<text x="385.50" y="193.54" font-size="5.3" text-anchor="end" fill="#3a3a3a" stroke="#3a3a3a" stroke-width="0.12">40</text>
<line x1="386.80" y1="176.51" x2="388.10" y2="176.51" stroke="#8c8c8c" stroke-width="0.6"/>
<text x="385.50" y="178.41" font-size="5.3" text-anchor="end" fill="#3a3a3a" stroke="#3a3a3a" stroke-width="0.12">60</text>
<line x1="386.80" y1="161.38" x2="388.10" y2="161.38" stroke="#8c8c8c" stroke-width="0.6"/>
<text x="385.50" y="163.28" font-size="5.3" text-anchor="end" fill="#3a3a3a" stroke="#3a3a3a" stroke-width="0.12">80</text>
<line x1="386.80" y1="146.25" x2="388.10" y2="146.25" stroke="#8c8c8c" stroke-width="0.6"/>
<text x="385.50" y="148.15" font-size="5.3" text-anchor="end" fill="#3a3a3a" stroke="#3a3a3a" stroke-width="0.12">100</text>
<line x1="388.10" y1="221.90" x2="388.10" y2="223.10" stroke="#8c8c8c" stroke-width="0.6"/>
<text x="388.10" y="230.50" font-size="5.3" text-anchor="middle" fill="#3a3a3a" stroke="#3a3a3a" stroke-width="0.12">0</text>
<line x1="401.08" y1="221.90" x2="401.08" y2="223.10" stroke="#8c8c8c" stroke-width="0.6"/>
<text x="401.08" y="230.50" font-size="5.3" text-anchor="middle" fill="#3a3a3a" stroke="#3a3a3a" stroke-width="0.12">12</text>
<line x1="414.06" y1="221.90" x2="414.06" y2="223.10" stroke="#8c8c8c" stroke-width="0.6"/>
<text x="414.06" y="230.50" font-size="5.3" text-anchor="middle" fill="#3a3a3a" stroke="#3a3a3a" stroke-width="0.12">24</text>
<line x1="427.04" y1="221.90" x2="427.04" y2="223.10" stroke="#8c8c8c" stroke-width="0.6"/>
<text x="427.04" y="230.50" font-size="5.3" text-anchor="middle" fill="#3a3a3a" stroke="#3a3a3a" stroke-width="0.12">36</text>
<line x1="440.02" y1="221.90" x2="440.02" y2="223.10" stroke="#8c8c8c" stroke-width="0.6"/>
<text x="440.02" y="230.50" font-size="5.3" text-anchor="middle" fill="#3a3a3a" stroke="#3a3a3a" stroke-width="0.12">48</text>
<text x="401.90" y="241.80" font-size="8.9" text-anchor="start" fill="#262626" stroke="#262626" stroke-width="0.3" textLength="30.50" lengthAdjust="spacingAndGlyphs">Time (h)</text>
<path d="M388.10,151.90 L401.08,162.10 L414.06,173.50 L440.02,190.75" fill="none" stroke="#3a3a3a" stroke-width="0.75"/>
<path d="M388.10,151.90 L401.08,165.60 L414.06,181.50 L440.02,203.25" fill="none" stroke="#3a3a3a" stroke-width="0.75"/>
<circle cx="388.10" cy="151.90" r="1.70" fill="#fff" stroke="#2a2a2a" stroke-width="0.7"/>
<circle cx="401.08" cy="162.10" r="1.70" fill="#fff" stroke="#2a2a2a" stroke-width="0.7"/>
<circle cx="414.06" cy="173.50" r="1.70" fill="#fff" stroke="#2a2a2a" stroke-width="0.7"/>
<circle cx="440.02" cy="190.75" r="1.70" fill="#fff" stroke="#2a2a2a" stroke-width="0.7"/>
<circle cx="388.10" cy="151.90" r="1.95" fill="#111"/>
<circle cx="401.08" cy="165.60" r="1.95" fill="#111"/>
<circle cx="414.06" cy="181.50" r="1.95" fill="#111"/>
<circle cx="440.02" cy="203.25" r="1.95" fill="#111"/>
<rect x="460.50" y="146.25" width="57.00" height="75.65" fill="none" stroke="#8c8c8c" stroke-width="0.95"/>
<line x1="459.20" y1="221.90" x2="460.50" y2="221.90" stroke="#8c8c8c" stroke-width="0.6"/>
<text x="457.90" y="223.80" font-size="5.3" text-anchor="end" fill="#3a3a3a" stroke="#3a3a3a" stroke-width="0.12">0</text>
<line x1="459.20" y1="206.77" x2="460.50" y2="206.77" stroke="#8c8c8c" stroke-width="0.6"/>
<text x="457.90" y="208.67" font-size="5.3" text-anchor="end" fill="#3a3a3a" stroke="#3a3a3a" stroke-width="0.12">20</text>
<line x1="459.20" y1="191.64" x2="460.50" y2="191.64" stroke="#8c8c8c" stroke-width="0.6"/>
<text x="457.90" y="193.54" font-size="5.3" text-anchor="end" fill="#3a3a3a" stroke="#3a3a3a" stroke-width="0.12">40</text>
<line x1="459.20" y1="176.51" x2="460.50" y2="176.51" stroke="#8c8c8c" stroke-width="0.6"/>
<text x="457.90" y="178.41" font-size="5.3" text-anchor="end" fill="#3a3a3a" stroke="#3a3a3a" stroke-width="0.12">60</text>
<line x1="459.20" y1="161.38" x2="460.50" y2="161.38" stroke="#8c8c8c" stroke-width="0.6"/>
<text x="457.90" y="163.28" font-size="5.3" text-anchor="end" fill="#3a3a3a" stroke="#3a3a3a" stroke-width="0.12">80</text>
<line x1="459.20" y1="146.25" x2="460.50" y2="146.25" stroke="#8c8c8c" stroke-width="0.6"/>
<text x="457.90" y="148.15" font-size="5.3" text-anchor="end" fill="#3a3a3a" stroke="#3a3a3a" stroke-width="0.12">100</text>
<line x1="460.50" y1="221.90" x2="460.50" y2="223.10" stroke="#8c8c8c" stroke-width="0.6"/>
<text x="460.50" y="230.50" font-size="5.3" text-anchor="middle" fill="#3a3a3a" stroke="#3a3a3a" stroke-width="0.12">0</text>
<line x1="473.50" y1="221.90" x2="473.50" y2="223.10" stroke="#8c8c8c" stroke-width="0.6"/>
<text x="473.50" y="230.50" font-size="5.3" text-anchor="middle" fill="#3a3a3a" stroke="#3a3a3a" stroke-width="0.12">12</text>
<line x1="486.50" y1="221.90" x2="486.50" y2="223.10" stroke="#8c8c8c" stroke-width="0.6"/>
<text x="486.50" y="230.50" font-size="5.3" text-anchor="middle" fill="#3a3a3a" stroke="#3a3a3a" stroke-width="0.12">24</text>
<line x1="499.50" y1="221.90" x2="499.50" y2="223.10" stroke="#8c8c8c" stroke-width="0.6"/>
<text x="499.50" y="230.50" font-size="5.3" text-anchor="middle" fill="#3a3a3a" stroke="#3a3a3a" stroke-width="0.12">36</text>
<line x1="512.50" y1="221.90" x2="512.50" y2="223.10" stroke="#8c8c8c" stroke-width="0.6"/>
<text x="512.50" y="230.50" font-size="5.3" text-anchor="middle" fill="#3a3a3a" stroke="#3a3a3a" stroke-width="0.12">48</text>
<text x="475.10" y="241.80" font-size="8.9" text-anchor="start" fill="#262626" stroke="#262626" stroke-width="0.3" textLength="30.50" lengthAdjust="spacingAndGlyphs">Time (h)</text>
<path d="M460.50,151.25 L473.50,168.50 L486.50,181.90 L512.50,198.75" fill="none" stroke="#3a3a3a" stroke-width="0.75"/>
<path d="M460.50,151.25 L473.50,170.60 L486.50,188.10 L512.50,207.10" fill="none" stroke="#3a3a3a" stroke-width="0.75"/>
<polygon points="460.50,149.40 462.35,152.64 458.65,152.64" fill="#fff" stroke="#2a2a2a" stroke-width="0.7"/>
<polygon points="473.50,166.65 475.35,169.89 471.65,169.89" fill="#fff" stroke="#2a2a2a" stroke-width="0.7"/>
<polygon points="486.50,180.05 488.35,183.29 484.65,183.29" fill="#fff" stroke="#2a2a2a" stroke-width="0.7"/>
<polygon points="512.50,196.90 514.35,200.14 510.65,200.14" fill="#fff" stroke="#2a2a2a" stroke-width="0.7"/>
<polygon points="460.50,149.15 462.60,152.82 458.40,152.82" fill="#111"/>
<polygon points="473.50,168.50 475.60,172.17 471.40,172.17" fill="#111"/>
<polygon points="486.50,186.00 488.60,189.67 484.40,189.67" fill="#111"/>
<polygon points="512.50,205.00 514.60,208.67 510.40,208.67" fill="#111"/>
<circle cx="129.40" cy="151.70" r="1.90" fill="#fff" stroke="#2a2a2a" stroke-width="0.7"/>
<text x="133.40" y="154.00" font-size="6.5" text-anchor="start" fill="#262626" stroke="#262626" stroke-width="0.2" textLength="8.20" lengthAdjust="spacingAndGlyphs">+/+</text>
<path d="M127.72,156.42L131.08,159.78M127.72,159.78L131.08,156.42" stroke="#111" stroke-width="0.7" fill="none"/>
<text x="133.40" y="160.40" font-size="6.5" text-anchor="start" fill="#262626" stroke="#262626" stroke-width="0.2" textLength="23.20" lengthAdjust="spacingAndGlyphs">+/+/fMLP</text>
<polygon points="201.25,150.23 203.32,153.85 199.18,153.85" fill="#fff" stroke="#2a2a2a" stroke-width="0.7"/>
<text x="206.60" y="154.60" font-size="6.5" text-anchor="start" fill="#262626" stroke="#262626" stroke-width="0.2" textLength="6.80" lengthAdjust="spacingAndGlyphs">-/-</text>
<polygon points="201.25,160.67 203.32,157.05 199.18,157.05" fill="#fff" stroke="#2a2a2a" stroke-width="0.7"/>
<text x="206.60" y="160.90" font-size="6.5" text-anchor="start" fill="#262626" stroke="#262626" stroke-width="0.2" textLength="21.50" lengthAdjust="spacingAndGlyphs">-/-/fMLP</text>
<circle cx="274.00" cy="152.10" r="1.90" fill="#fff" stroke="#2a2a2a" stroke-width="0.7"/>
<text x="278.00" y="154.40" font-size="6.5" text-anchor="start" fill="#262626" stroke="#262626" stroke-width="0.2" textLength="8.20" lengthAdjust="spacingAndGlyphs">+/+</text>
<rect x="272.32" y="156.82" width="3.36" height="3.36" fill="#fff" stroke="#2a2a2a" stroke-width="0.7"/>
<text x="278.00" y="160.80" font-size="6.5" text-anchor="start" fill="#262626" stroke="#262626" stroke-width="0.2" textLength="22.00" lengthAdjust="spacingAndGlyphs">+/+/C5a</text>
<polygon points="344.60,150.33 346.67,153.95 342.53,153.95" fill="#fff" stroke="#2a2a2a" stroke-width="0.7"/>
<text x="348.80" y="154.70" font-size="6.5" text-anchor="start" fill="#262626" stroke="#262626" stroke-width="0.2" textLength="6.80" lengthAdjust="spacingAndGlyphs">-/-</text>
<circle cx="344.60" cy="158.50" r="1.62" fill="#111"/>
<text x="348.80" y="160.80" font-size="6.5" text-anchor="start" fill="#262626" stroke="#262626" stroke-width="0.2" textLength="19.50" lengthAdjust="spacingAndGlyphs">-/-/C5a</text>
<circle cx="415.60" cy="151.90" r="1.90" fill="#fff" stroke="#2a2a2a" stroke-width="0.7"/>
<text x="419.80" y="154.20" font-size="6.5" text-anchor="start" fill="#262626" stroke="#262626" stroke-width="0.2" textLength="8.20" lengthAdjust="spacingAndGlyphs">+/+</text>
<circle cx="415.60" cy="157.20" r="2.18" fill="#111"/>
<text x="419.80" y="159.50" font-size="6.5" text-anchor="start" fill="#262626" stroke="#262626" stroke-width="0.2" textLength="23.50" lengthAdjust="spacingAndGlyphs">+/+/CytB</text>
<polygon points="488.75,150.03 490.82,153.65 486.68,153.65" fill="#fff" stroke="#2a2a2a" stroke-width="0.7"/>
<text x="493.50" y="154.40" font-size="6.5" text-anchor="start" fill="#262626" stroke="#262626" stroke-width="0.2" textLength="6.80" lengthAdjust="spacingAndGlyphs">-/-</text>
<polygon points="488.75,156.05 491.10,160.16 486.40,160.16" fill="#111"/>
<text x="493.50" y="160.70" font-size="6.5" text-anchor="start" fill="#262626" stroke="#262626" stroke-width="0.2" textLength="21.50" lengthAdjust="spacingAndGlyphs">-/-/CytB</text>
<text x="10.20" y="256.00" font-size="11.5" text-anchor="middle" font-weight="bold" fill="#111" stroke="#111" stroke-width="0.4">D</text>
<text x="18.10" y="304.00" font-size="8.3" text-anchor="middle" fill="#262626" stroke="#262626" stroke-width="0.3" transform="rotate(-90 18.10 304.00)" textLength="83.00" lengthAdjust="spacingAndGlyphs">Neutrophil survival (%)</text>
<rect x="34.40" y="267.25" width="57.30" height="75.05" fill="none" stroke="#8c8c8c" stroke-width="0.95"/>
<line x1="33.10" y1="342.30" x2="34.40" y2="342.30" stroke="#8c8c8c" stroke-width="0.6"/>
<text x="31.80" y="344.20" font-size="5.3" text-anchor="end" fill="#3a3a3a" stroke="#3a3a3a" stroke-width="0.12">0</text>
<line x1="33.10" y1="327.29" x2="34.40" y2="327.29" stroke="#8c8c8c" stroke-width="0.6"/>
<text x="31.80" y="329.19" font-size="5.3" text-anchor="end" fill="#3a3a3a" stroke="#3a3a3a" stroke-width="0.12">20</text>
<line x1="33.10" y1="312.28" x2="34.40" y2="312.28" stroke="#8c8c8c" stroke-width="0.6"/>
<text x="31.80" y="314.18" font-size="5.3" text-anchor="end" fill="#3a3a3a" stroke="#3a3a3a" stroke-width="0.12">40</text>
<line x1="33.10" y1="297.27" x2="34.40" y2="297.27" stroke="#8c8c8c" stroke-width="0.6"/>
<text x="31.80" y="299.17" font-size="5.3" text-anchor="end" fill="#3a3a3a" stroke="#3a3a3a" stroke-width="0.12">60</text>
<line x1="33.10" y1="282.26" x2="34.40" y2="282.26" stroke="#8c8c8c" stroke-width="0.6"/>
<text x="31.80" y="284.16" font-size="5.3" text-anchor="end" fill="#3a3a3a" stroke="#3a3a3a" stroke-width="0.12">80</text>
<line x1="33.10" y1="267.25" x2="34.40" y2="267.25" stroke="#8c8c8c" stroke-width="0.6"/>
<text x="31.80" y="269.15" font-size="5.3" text-anchor="end" fill="#3a3a3a" stroke="#3a3a3a" stroke-width="0.12">100</text>
<line x1="34.40" y1="342.30" x2="34.40" y2="343.50" stroke="#8c8c8c" stroke-width="0.6"/>
<text x="34.40" y="350.90" font-size="5.3" text-anchor="middle" fill="#3a3a3a" stroke="#3a3a3a" stroke-width="0.12">0</text>
<line x1="47.43" y1="342.30" x2="47.43" y2="343.50" stroke="#8c8c8c" stroke-width="0.6"/>
<text x="47.43" y="350.90" font-size="5.3" text-anchor="middle" fill="#3a3a3a" stroke="#3a3a3a" stroke-width="0.12">12</text>
<line x1="60.46" y1="342.30" x2="60.46" y2="343.50" stroke="#8c8c8c" stroke-width="0.6"/>
<text x="60.46" y="350.90" font-size="5.3" text-anchor="middle" fill="#3a3a3a" stroke="#3a3a3a" stroke-width="0.12">24</text>
<line x1="73.49" y1="342.30" x2="73.49" y2="343.50" stroke="#8c8c8c" stroke-width="0.6"/>
<text x="73.49" y="350.90" font-size="5.3" text-anchor="middle" fill="#3a3a3a" stroke="#3a3a3a" stroke-width="0.12">36</text>
<line x1="86.52" y1="342.30" x2="86.52" y2="343.50" stroke="#8c8c8c" stroke-width="0.6"/>
<text x="86.52" y="350.90" font-size="5.3" text-anchor="middle" fill="#3a3a3a" stroke="#3a3a3a" stroke-width="0.12">48</text>
<text x="50.00" y="362.50" font-size="8.9" text-anchor="start" fill="#262626" stroke="#262626" stroke-width="0.3" textLength="30.20" lengthAdjust="spacingAndGlyphs">Time (h)</text>
<path d="M34.40,272.50 L47.43,282.75 L60.46,289.40 L86.52,303.75" fill="none" stroke="#3a3a3a" stroke-width="0.75"/>
<path d="M34.40,272.50 L47.43,288.10 L60.46,306.00 L86.52,331.40" fill="none" stroke="#3a3a3a" stroke-width="0.75"/>
<circle cx="34.40" cy="272.50" r="1.70" fill="#fff" stroke="#2a2a2a" stroke-width="0.7"/>
<circle cx="47.43" cy="282.75" r="1.70" fill="#fff" stroke="#2a2a2a" stroke-width="0.7"/>
<circle cx="60.46" cy="289.40" r="1.70" fill="#fff" stroke="#2a2a2a" stroke-width="0.7"/>
<circle cx="86.52" cy="303.75" r="1.70" fill="#fff" stroke="#2a2a2a" stroke-width="0.7"/>
<rect x="32.90" y="271.00" width="3.00" height="3.00" fill="#fff" stroke="#2a2a2a" stroke-width="0.7"/>
<rect x="45.93" y="286.60" width="3.00" height="3.00" fill="#fff" stroke="#2a2a2a" stroke-width="0.7"/>
<rect x="58.96" y="304.50" width="3.00" height="3.00" fill="#fff" stroke="#2a2a2a" stroke-width="0.7"/>
<rect x="85.02" y="329.90" width="3.00" height="3.00" fill="#fff" stroke="#2a2a2a" stroke-width="0.7"/>
<circle cx="86.52" cy="333.00" r="1.70" fill="#fff" stroke="#2a2a2a" stroke-width="0.7"/>
<rect x="111.50" y="267.90" width="57.00" height="75.60" fill="none" stroke="#8c8c8c" stroke-width="0.95"/>
<line x1="110.20" y1="343.50" x2="111.50" y2="343.50" stroke="#8c8c8c" stroke-width="0.6"/>
<text x="108.90" y="345.40" font-size="5.3" text-anchor="end" fill="#3a3a3a" stroke="#3a3a3a" stroke-width="0.12">0</text>
<line x1="110.20" y1="328.38" x2="111.50" y2="328.38" stroke="#8c8c8c" stroke-width="0.6"/>
<text x="108.90" y="330.28" font-size="5.3" text-anchor="end" fill="#3a3a3a" stroke="#3a3a3a" stroke-width="0.12">20</text>
<line x1="110.20" y1="313.26" x2="111.50" y2="313.26" stroke="#8c8c8c" stroke-width="0.6"/>
<text x="108.90" y="315.16" font-size="5.3" text-anchor="end" fill="#3a3a3a" stroke="#3a3a3a" stroke-width="0.12">40</text>
<line x1="110.20" y1="298.14" x2="111.50" y2="298.14" stroke="#8c8c8c" stroke-width="0.6"/>
<text x="108.90" y="300.04" font-size="5.3" text-anchor="end" fill="#3a3a3a" stroke="#3a3a3a" stroke-width="0.12">60</text>
<line x1="110.20" y1="283.02" x2="111.50" y2="283.02" stroke="#8c8c8c" stroke-width="0.6"/>
<text x="108.90" y="284.92" font-size="5.3" text-anchor="end" fill="#3a3a3a" stroke="#3a3a3a" stroke-width="0.12">80</text>
<line x1="110.20" y1="267.90" x2="111.50" y2="267.90" stroke="#8c8c8c" stroke-width="0.6"/>
<text x="108.90" y="269.80" font-size="5.3" text-anchor="end" fill="#3a3a3a" stroke="#3a3a3a" stroke-width="0.12">100</text>
<line x1="111.50" y1="343.50" x2="111.50" y2="344.70" stroke="#8c8c8c" stroke-width="0.6"/>
<text x="111.50" y="352.10" font-size="5.3" text-anchor="middle" fill="#3a3a3a" stroke="#3a3a3a" stroke-width="0.12">0</text>
<line x1="124.60" y1="343.50" x2="124.60" y2="344.70" stroke="#8c8c8c" stroke-width="0.6"/>
<text x="124.60" y="352.10" font-size="5.3" text-anchor="middle" fill="#3a3a3a" stroke="#3a3a3a" stroke-width="0.12">12</text>
<line x1="137.70" y1="343.50" x2="137.70" y2="344.70" stroke="#8c8c8c" stroke-width="0.6"/>
<text x="137.70" y="352.10" font-size="5.3" text-anchor="middle" fill="#3a3a3a" stroke="#3a3a3a" stroke-width="0.12">24</text>
<line x1="150.80" y1="343.50" x2="150.80" y2="344.70" stroke="#8c8c8c" stroke-width="0.6"/>
<text x="150.80" y="352.10" font-size="5.3" text-anchor="middle" fill="#3a3a3a" stroke="#3a3a3a" stroke-width="0.12">36</text>
<line x1="163.90" y1="343.50" x2="163.90" y2="344.70" stroke="#8c8c8c" stroke-width="0.6"/>
<text x="163.90" y="352.10" font-size="5.3" text-anchor="middle" fill="#3a3a3a" stroke="#3a3a3a" stroke-width="0.12">48</text>
<text x="129.80" y="362.50" font-size="8.9" text-anchor="start" fill="#262626" stroke="#262626" stroke-width="0.3" textLength="30.20" lengthAdjust="spacingAndGlyphs">Time (h)</text>
<path d="M111.50,272.90 L124.60,290.00 L137.70,298.50 L163.90,313.00" fill="none" stroke="#3a3a3a" stroke-width="0.75"/>
<path d="M111.50,272.90 L124.60,294.40 L137.70,313.00 L163.90,337.50" fill="none" stroke="#3a3a3a" stroke-width="0.75"/>
<polygon points="111.50,271.05 113.35,274.29 109.65,274.29" fill="#fff" stroke="#2a2a2a" stroke-width="0.7"/>
<polygon points="124.60,288.15 126.45,291.39 122.75,291.39" fill="#fff" stroke="#2a2a2a" stroke-width="0.7"/>
<polygon points="137.70,296.65 139.55,299.89 135.85,299.89" fill="#fff" stroke="#2a2a2a" stroke-width="0.7"/>
<polygon points="163.90,311.15 165.75,314.39 162.05,314.39" fill="#fff" stroke="#2a2a2a" stroke-width="0.7"/>
<circle cx="111.50" cy="272.90" r="1.70" fill="#fff" stroke="#2a2a2a" stroke-width="0.7"/>
<circle cx="124.60" cy="294.40" r="1.70" fill="#fff" stroke="#2a2a2a" stroke-width="0.7"/>
<circle cx="137.70" cy="313.00" r="1.70" fill="#fff" stroke="#2a2a2a" stroke-width="0.7"/>
<polygon points="163.90,339.35 165.75,336.11 162.05,336.11" fill="#fff" stroke="#2a2a2a" stroke-width="0.7"/>
<rect x="110.00" y="271.40" width="3.00" height="3.00" fill="#fff" stroke="#2a2a2a" stroke-width="0.7"/>
<rect x="186.90" y="268.10" width="57.90" height="75.40" fill="none" stroke="#8c8c8c" stroke-width="0.95"/>
<line x1="185.60" y1="343.50" x2="186.90" y2="343.50" stroke="#8c8c8c" stroke-width="0.6"/>
<text x="184.30" y="345.40" font-size="5.3" text-anchor="end" fill="#3a3a3a" stroke="#3a3a3a" stroke-width="0.12">0</text>
<line x1="185.60" y1="328.42" x2="186.90" y2="328.42" stroke="#8c8c8c" stroke-width="0.6"/>
<text x="184.30" y="330.32" font-size="5.3" text-anchor="end" fill="#3a3a3a" stroke="#3a3a3a" stroke-width="0.12">20</text>
<line x1="185.60" y1="313.34" x2="186.90" y2="313.34" stroke="#8c8c8c" stroke-width="0.6"/>
<text x="184.30" y="315.24" font-size="5.3" text-anchor="end" fill="#3a3a3a" stroke="#3a3a3a" stroke-width="0.12">40</text>
<line x1="185.60" y1="298.26" x2="186.90" y2="298.26" stroke="#8c8c8c" stroke-width="0.6"/>
<text x="184.30" y="300.16" font-size="5.3" text-anchor="end" fill="#3a3a3a" stroke="#3a3a3a" stroke-width="0.12">60</text>
<line x1="185.60" y1="283.18" x2="186.90" y2="283.18" stroke="#8c8c8c" stroke-width="0.6"/>
<text x="184.30" y="285.08" font-size="5.3" text-anchor="end" fill="#3a3a3a" stroke="#3a3a3a" stroke-width="0.12">80</text>
<line x1="185.60" y1="268.10" x2="186.90" y2="268.10" stroke="#8c8c8c" stroke-width="0.6"/>
<text x="184.30" y="270.00" font-size="5.3" text-anchor="end" fill="#3a3a3a" stroke="#3a3a3a" stroke-width="0.12">100</text>
<line x1="186.90" y1="343.50" x2="186.90" y2="344.70" stroke="#8c8c8c" stroke-width="0.6"/>
<text x="186.90" y="352.10" font-size="5.3" text-anchor="middle" fill="#3a3a3a" stroke="#3a3a3a" stroke-width="0.12">0</text>
<line x1="199.95" y1="343.50" x2="199.95" y2="344.70" stroke="#8c8c8c" stroke-width="0.6"/>
<text x="199.95" y="352.10" font-size="5.3" text-anchor="middle" fill="#3a3a3a" stroke="#3a3a3a" stroke-width="0.12">12</text>
<line x1="213.00" y1="343.50" x2="213.00" y2="344.70" stroke="#8c8c8c" stroke-width="0.6"/>
<text x="213.00" y="352.10" font-size="5.3" text-anchor="middle" fill="#3a3a3a" stroke="#3a3a3a" stroke-width="0.12">24</text>
<line x1="226.05" y1="343.50" x2="226.05" y2="344.70" stroke="#8c8c8c" stroke-width="0.6"/>
<text x="226.05" y="352.10" font-size="5.3" text-anchor="middle" fill="#3a3a3a" stroke="#3a3a3a" stroke-width="0.12">36</text>
<line x1="239.10" y1="343.50" x2="239.10" y2="344.70" stroke="#8c8c8c" stroke-width="0.6"/>
<text x="239.10" y="352.10" font-size="5.3" text-anchor="middle" fill="#3a3a3a" stroke="#3a3a3a" stroke-width="0.12">48</text>
<text x="204.00" y="362.50" font-size="8.9" text-anchor="start" fill="#262626" stroke="#262626" stroke-width="0.3" textLength="30.20" lengthAdjust="spacingAndGlyphs">Time (h)</text>
<path d="M186.90,272.90 L199.95,276.25 L213.00,281.00 L239.10,292.90" fill="none" stroke="#3a3a3a" stroke-width="0.75"/>
<path d="M186.90,272.90 L199.95,278.10 L213.00,286.00 L239.10,304.60" fill="none" stroke="#3a3a3a" stroke-width="0.75"/>
<circle cx="186.90" cy="272.90" r="1.95" fill="#111"/>
<circle cx="199.95" cy="276.25" r="1.95" fill="#111"/>
<circle cx="213.00" cy="281.00" r="1.95" fill="#111"/>
<circle cx="239.10" cy="292.90" r="1.95" fill="#111"/>
<rect x="185.25" y="271.25" width="3.30" height="3.30" fill="#111"/>
<rect x="198.30" y="276.45" width="3.30" height="3.30" fill="#111"/>
<rect x="211.35" y="284.35" width="3.30" height="3.30" fill="#111"/>
<rect x="237.45" y="302.95" width="3.30" height="3.30" fill="#111"/>
<rect x="261.90" y="268.10" width="57.10" height="75.00" fill="none" stroke="#8c8c8c" stroke-width="0.95"/>
<line x1="260.60" y1="343.10" x2="261.90" y2="343.10" stroke="#8c8c8c" stroke-width="0.6"/>
<text x="259.30" y="345.00" font-size="5.3" text-anchor="end" fill="#3a3a3a" stroke="#3a3a3a" stroke-width="0.12">0</text>
<line x1="260.60" y1="328.10" x2="261.90" y2="328.10" stroke="#8c8c8c" stroke-width="0.6"/>
<text x="259.30" y="330.00" font-size="5.3" text-anchor="end" fill="#3a3a3a" stroke="#3a3a3a" stroke-width="0.12">20</text>
<line x1="260.60" y1="313.10" x2="261.90" y2="313.10" stroke="#8c8c8c" stroke-width="0.6"/>
<text x="259.30" y="315.00" font-size="5.3" text-anchor="end" fill="#3a3a3a" stroke="#3a3a3a" stroke-width="0.12">40</text>
<line x1="260.60" y1="298.10" x2="261.90" y2="298.10" stroke="#8c8c8c" stroke-width="0.6"/>
<text x="259.30" y="300.00" font-size="5.3" text-anchor="end" fill="#3a3a3a" stroke="#3a3a3a" stroke-width="0.12">60</text>
<line x1="260.60" y1="283.10" x2="261.90" y2="283.10" stroke="#8c8c8c" stroke-width="0.6"/>
<text x="259.30" y="285.00" font-size="5.3" text-anchor="end" fill="#3a3a3a" stroke="#3a3a3a" stroke-width="0.12">80</text>
<line x1="260.60" y1="268.10" x2="261.90" y2="268.10" stroke="#8c8c8c" stroke-width="0.6"/>
<text x="259.30" y="270.00" font-size="5.3" text-anchor="end" fill="#3a3a3a" stroke="#3a3a3a" stroke-width="0.12">100</text>
<line x1="261.90" y1="343.10" x2="261.90" y2="344.30" stroke="#8c8c8c" stroke-width="0.6"/>
<text x="261.90" y="351.70" font-size="5.3" text-anchor="middle" fill="#3a3a3a" stroke="#3a3a3a" stroke-width="0.12">0</text>
<line x1="274.90" y1="343.10" x2="274.90" y2="344.30" stroke="#8c8c8c" stroke-width="0.6"/>
<text x="274.90" y="351.70" font-size="5.3" text-anchor="middle" fill="#3a3a3a" stroke="#3a3a3a" stroke-width="0.12">12</text>
<line x1="287.90" y1="343.10" x2="287.90" y2="344.30" stroke="#8c8c8c" stroke-width="0.6"/>
<text x="287.90" y="351.70" font-size="5.3" text-anchor="middle" fill="#3a3a3a" stroke="#3a3a3a" stroke-width="0.12">24</text>
<line x1="300.90" y1="343.10" x2="300.90" y2="344.30" stroke="#8c8c8c" stroke-width="0.6"/>
<text x="300.90" y="351.70" font-size="5.3" text-anchor="middle" fill="#3a3a3a" stroke="#3a3a3a" stroke-width="0.12">36</text>
<line x1="313.90" y1="343.10" x2="313.90" y2="344.30" stroke="#8c8c8c" stroke-width="0.6"/>
<text x="313.90" y="351.70" font-size="5.3" text-anchor="middle" fill="#3a3a3a" stroke="#3a3a3a" stroke-width="0.12">48</text>
<text x="279.20" y="362.50" font-size="8.9" text-anchor="start" fill="#262626" stroke="#262626" stroke-width="0.3" textLength="30.20" lengthAdjust="spacingAndGlyphs">Time (h)</text>
<path d="M261.90,272.10 L274.90,281.50 L287.90,287.25 L313.90,300.00" fill="none" stroke="#3a3a3a" stroke-width="0.75"/>
<path d="M261.90,272.10 L274.90,283.00 L287.90,292.25 L313.90,312.00" fill="none" stroke="#3a3a3a" stroke-width="0.75"/>
<polygon points="261.90,270.00 264.00,273.68 259.80,273.68" fill="#111"/>
<polygon points="274.90,279.40 277.00,283.07 272.80,283.07" fill="#111"/>
<polygon points="287.90,285.15 290.00,288.82 285.80,288.82" fill="#111"/>
<polygon points="313.90,297.90 316.00,301.57 311.80,301.57" fill="#111"/>
<polygon points="261.90,274.20 264.00,270.53 259.80,270.53" fill="#111"/>
<polygon points="274.90,285.10 277.00,281.43 272.80,281.43" fill="#111"/>
<polygon points="287.90,294.35 290.00,290.68 285.80,290.68" fill="#111"/>
<polygon points="313.90,314.10 316.00,310.43 311.80,310.43" fill="#111"/>
<rect x="337.60" y="268.40" width="57.90" height="75.80" fill="none" stroke="#8c8c8c" stroke-width="0.95"/>
<line x1="336.30" y1="344.20" x2="337.60" y2="344.20" stroke="#8c8c8c" stroke-width="0.6"/>
<text x="335.00" y="346.10" font-size="5.3" text-anchor="end" fill="#3a3a3a" stroke="#3a3a3a" stroke-width="0.12">0</text>
<line x1="336.30" y1="329.04" x2="337.60" y2="329.04" stroke="#8c8c8c" stroke-width="0.6"/>
<text x="335.00" y="330.94" font-size="5.3" text-anchor="end" fill="#3a3a3a" stroke="#3a3a3a" stroke-width="0.12">20</text>
<line x1="336.30" y1="313.88" x2="337.60" y2="313.88" stroke="#8c8c8c" stroke-width="0.6"/>
<text x="335.00" y="315.78" font-size="5.3" text-anchor="end" fill="#3a3a3a" stroke="#3a3a3a" stroke-width="0.12">40</text>
<line x1="336.30" y1="298.72" x2="337.60" y2="298.72" stroke="#8c8c8c" stroke-width="0.6"/>
<text x="335.00" y="300.62" font-size="5.3" text-anchor="end" fill="#3a3a3a" stroke="#3a3a3a" stroke-width="0.12">60</text>
<line x1="336.30" y1="283.56" x2="337.60" y2="283.56" stroke="#8c8c8c" stroke-width="0.6"/>
<text x="335.00" y="285.46" font-size="5.3" text-anchor="end" fill="#3a3a3a" stroke="#3a3a3a" stroke-width="0.12">80</text>
<line x1="336.30" y1="268.40" x2="337.60" y2="268.40" stroke="#8c8c8c" stroke-width="0.6"/>
<text x="335.00" y="270.30" font-size="5.3" text-anchor="end" fill="#3a3a3a" stroke="#3a3a3a" stroke-width="0.12">100</text>
<line x1="337.60" y1="344.20" x2="337.60" y2="345.40" stroke="#8c8c8c" stroke-width="0.6"/>
<text x="337.60" y="352.80" font-size="5.3" text-anchor="middle" fill="#3a3a3a" stroke="#3a3a3a" stroke-width="0.12">0</text>
<line x1="350.70" y1="344.20" x2="350.70" y2="345.40" stroke="#8c8c8c" stroke-width="0.6"/>
<text x="350.70" y="352.80" font-size="5.3" text-anchor="middle" fill="#3a3a3a" stroke="#3a3a3a" stroke-width="0.12">12</text>
<line x1="363.80" y1="344.20" x2="363.80" y2="345.40" stroke="#8c8c8c" stroke-width="0.6"/>
<text x="363.80" y="352.80" font-size="5.3" text-anchor="middle" fill="#3a3a3a" stroke="#3a3a3a" stroke-width="0.12">24</text>
<line x1="376.90" y1="344.20" x2="376.90" y2="345.40" stroke="#8c8c8c" stroke-width="0.6"/>
<text x="376.90" y="352.80" font-size="5.3" text-anchor="middle" fill="#3a3a3a" stroke="#3a3a3a" stroke-width="0.12">36</text>
<line x1="390.00" y1="344.20" x2="390.00" y2="345.40" stroke="#8c8c8c" stroke-width="0.6"/>
<text x="390.00" y="352.80" font-size="5.3" text-anchor="middle" fill="#3a3a3a" stroke="#3a3a3a" stroke-width="0.12">48</text>
<text x="355.30" y="362.50" font-size="8.9" text-anchor="start" fill="#262626" stroke="#262626" stroke-width="0.3" textLength="30.20" lengthAdjust="spacingAndGlyphs">Time (h)</text>
<path d="M337.60,274.00 L350.70,288.75 L363.80,307.50 L390.00,333.25" fill="none" stroke="#3a3a3a" stroke-width="1.0"/>
<path d="M337.60,274.00 L350.70,295.00 L363.80,313.75 L390.00,338.00" fill="none" stroke="#3a3a3a" stroke-width="1.0"/>
<rect x="336.10" y="272.50" width="3.00" height="3.00" fill="#fff" stroke="#2a2a2a" stroke-width="0.7"/>
<rect x="349.20" y="287.25" width="3.00" height="3.00" fill="#fff" stroke="#2a2a2a" stroke-width="0.7"/>
<rect x="362.30" y="306.00" width="3.00" height="3.00" fill="#fff" stroke="#2a2a2a" stroke-width="0.7"/>
<rect x="388.50" y="331.75" width="3.00" height="3.00" fill="#fff" stroke="#2a2a2a" stroke-width="0.7"/>
<polygon points="337.60,275.85 339.45,272.61 335.75,272.61" fill="#fff" stroke="#2a2a2a" stroke-width="0.7"/>
<polygon points="350.70,296.85 352.55,293.61 348.85,293.61" fill="#fff" stroke="#2a2a2a" stroke-width="0.7"/>
<polygon points="363.80,315.60 365.65,312.36 361.95,312.36" fill="#fff" stroke="#2a2a2a" stroke-width="0.7"/>
<polygon points="390.00,339.85 391.85,336.61 388.15,336.61" fill="#fff" stroke="#2a2a2a" stroke-width="0.7"/>
<circle cx="337.60" cy="274.00" r="1.70" fill="#fff" stroke="#2a2a2a" stroke-width="0.7"/>
<circle cx="390.00" cy="333.25" r="1.70" fill="#fff" stroke="#2a2a2a" stroke-width="0.7"/>
<rect x="412.60" y="268.10" width="57.90" height="75.40" fill="none" stroke="#8c8c8c" stroke-width="0.95"/>
<line x1="411.30" y1="343.50" x2="412.60" y2="343.50" stroke="#8c8c8c" stroke-width="0.6"/>
<text x="410.00" y="345.40" font-size="5.3" text-anchor="end" fill="#3a3a3a" stroke="#3a3a3a" stroke-width="0.12">0</text>
<line x1="411.30" y1="328.42" x2="412.60" y2="328.42" stroke="#8c8c8c" stroke-width="0.6"/>
<text x="410.00" y="330.32" font-size="5.3" text-anchor="end" fill="#3a3a3a" stroke="#3a3a3a" stroke-width="0.12">20</text>
<line x1="411.30" y1="313.34" x2="412.60" y2="313.34" stroke="#8c8c8c" stroke-width="0.6"/>
<text x="410.00" y="315.24" font-size="5.3" text-anchor="end" fill="#3a3a3a" stroke="#3a3a3a" stroke-width="0.12">40</text>
<line x1="411.30" y1="298.26" x2="412.60" y2="298.26" stroke="#8c8c8c" stroke-width="0.6"/>
<text x="410.00" y="300.16" font-size="5.3" text-anchor="end" fill="#3a3a3a" stroke="#3a3a3a" stroke-width="0.12">60</text>
<line x1="411.30" y1="283.18" x2="412.60" y2="283.18" stroke="#8c8c8c" stroke-width="0.6"/>
<text x="410.00" y="285.08" font-size="5.3" text-anchor="end" fill="#3a3a3a" stroke="#3a3a3a" stroke-width="0.12">80</text>
<line x1="411.30" y1="268.10" x2="412.60" y2="268.10" stroke="#8c8c8c" stroke-width="0.6"/>
<text x="410.00" y="270.00" font-size="5.3" text-anchor="end" fill="#3a3a3a" stroke="#3a3a3a" stroke-width="0.12">100</text>
<line x1="412.60" y1="343.50" x2="412.60" y2="344.70" stroke="#8c8c8c" stroke-width="0.6"/>
<text x="412.60" y="352.10" font-size="5.3" text-anchor="middle" fill="#3a3a3a" stroke="#3a3a3a" stroke-width="0.12">0</text>
<line x1="425.70" y1="343.50" x2="425.70" y2="344.70" stroke="#8c8c8c" stroke-width="0.6"/>
<text x="425.70" y="352.10" font-size="5.3" text-anchor="middle" fill="#3a3a3a" stroke="#3a3a3a" stroke-width="0.12">12</text>
<line x1="438.80" y1="343.50" x2="438.80" y2="344.70" stroke="#8c8c8c" stroke-width="0.6"/>
<text x="438.80" y="352.10" font-size="5.3" text-anchor="middle" fill="#3a3a3a" stroke="#3a3a3a" stroke-width="0.12">24</text>
<line x1="451.90" y1="343.50" x2="451.90" y2="344.70" stroke="#8c8c8c" stroke-width="0.6"/>
<text x="451.90" y="352.10" font-size="5.3" text-anchor="middle" fill="#3a3a3a" stroke="#3a3a3a" stroke-width="0.12">36</text>
<line x1="465.00" y1="343.50" x2="465.00" y2="344.70" stroke="#8c8c8c" stroke-width="0.6"/>
<text x="465.00" y="352.10" font-size="5.3" text-anchor="middle" fill="#3a3a3a" stroke="#3a3a3a" stroke-width="0.12">48</text>
<text x="427.80" y="362.50" font-size="8.9" text-anchor="start" fill="#262626" stroke="#262626" stroke-width="0.3" textLength="30.20" lengthAdjust="spacingAndGlyphs">Time (h)</text>
<path d="M412.60,273.50 L425.70,277.90 L438.80,285.60 L465.00,304.25" fill="none" stroke="#3a3a3a" stroke-width="0.75"/>
<path d="M412.60,273.50 L425.70,284.40 L438.80,293.10 L465.00,312.50" fill="none" stroke="#3a3a3a" stroke-width="0.75"/>
<rect x="410.95" y="271.85" width="3.30" height="3.30" fill="#111"/>
<rect x="424.05" y="276.25" width="3.30" height="3.30" fill="#111"/>
<rect x="437.15" y="283.95" width="3.30" height="3.30" fill="#111"/>
<rect x="463.35" y="302.60" width="3.30" height="3.30" fill="#111"/>
<polygon points="412.60,275.60 414.70,271.93 410.50,271.93" fill="#111"/>
<polygon points="425.70,286.50 427.80,282.82 423.60,282.82" fill="#111"/>
<polygon points="438.80,295.20 440.90,291.53 436.70,291.53" fill="#111"/>
<polygon points="465.00,314.60 467.10,310.93 462.90,310.93" fill="#111"/>
<text x="62.80" y="265.60" font-size="8.3" text-anchor="middle" fill="#222" stroke="#222" stroke-width="0.3">+/+</text>
<text x="141.10" y="265.00" font-size="8.3" text-anchor="middle" fill="#222" stroke="#222" stroke-width="0.3">-/-</text>
<text x="213.00" y="264.80" font-size="8.3" text-anchor="middle" fill="#222" stroke="#222" stroke-width="0.3" textLength="40.50" lengthAdjust="spacingAndGlyphs">+/+/G-CSF</text>
<text x="288.90" y="264.80" font-size="8.3" text-anchor="middle" fill="#222" stroke="#222" stroke-width="0.3" textLength="35.50" lengthAdjust="spacingAndGlyphs">-/-/G-CSF</text>
<text x="363.00" y="264.30" font-size="8.3" text-anchor="middle" fill="#222" stroke="#222" stroke-width="0.3" textLength="48.00" lengthAdjust="spacingAndGlyphs">Control/2-DG</text>
<text x="438.40" y="264.30" font-size="8.3" text-anchor="middle" fill="#222" stroke="#222" stroke-width="0.3" textLength="47.50" lengthAdjust="spacingAndGlyphs">G-CSF/2-DG</text>
<text x="66.30" y="291.40" font-size="6.4" text-anchor="start" fill="#262626" stroke="#262626" stroke-width="0.2" textLength="21.40" lengthAdjust="spacingAndGlyphs">(-) 2-DG</text>
<text x="47.00" y="322.20" font-size="6.4" text-anchor="start" fill="#262626" stroke="#262626" stroke-width="0.2" textLength="23.00" lengthAdjust="spacingAndGlyphs">(+) 2-DG</text>
<text x="142.80" y="300.20" font-size="6.4" text-anchor="start" fill="#262626" stroke="#262626" stroke-width="0.2" textLength="22.20" lengthAdjust="spacingAndGlyphs">(-) 2-DG</text>
<text x="123.80" y="328.00" font-size="6.4" text-anchor="start" fill="#262626" stroke="#262626" stroke-width="0.2" textLength="23.00" lengthAdjust="spacingAndGlyphs">(+) 2-DG</text>
<text x="220.00" y="282.20" font-size="6.4" text-anchor="start" fill="#262626" stroke="#262626" stroke-width="0.2" textLength="22.00" lengthAdjust="spacingAndGlyphs">(-) 2-DG</text>
<text x="204.50" y="303.00" font-size="6.4" text-anchor="start" fill="#262626" stroke="#262626" stroke-width="0.2" textLength="23.00" lengthAdjust="spacingAndGlyphs">(+) 2-DG</text>
<text x="295.00" y="288.50" font-size="6.4" text-anchor="start" fill="#262626" stroke="#262626" stroke-width="0.2" textLength="21.50" lengthAdjust="spacingAndGlyphs">(-) 2-DG</text>
<text x="282.00" y="310.20" font-size="6.4" text-anchor="start" fill="#262626" stroke="#262626" stroke-width="0.2" textLength="22.00" lengthAdjust="spacingAndGlyphs">(+) 2-DG</text>
<text x="373.60" y="312.40" font-size="6.0" text-anchor="middle" fill="#262626" stroke="#262626" stroke-width="0.2" transform="rotate(-8 373.60 312.40)">+/+</text>
<text x="368.60" y="323.80" font-size="6.0" text-anchor="middle" fill="#262626" stroke="#262626" stroke-width="0.2" transform="rotate(-30 368.60 323.80)">-/-</text>
<text x="454.60" y="293.40" font-size="6.0" text-anchor="middle" fill="#262626" stroke="#262626" stroke-width="0.2" transform="rotate(-8 454.60 293.40)">+/+</text>
<text x="449.30" y="309.60" font-size="6.0" text-anchor="middle" fill="#262626" stroke="#262626" stroke-width="0.2" transform="rotate(-30 449.30 309.60)">-/-</text>
<text x="9.60" y="132.60" font-size="11.5" text-anchor="middle" font-weight="bold" fill="#111" stroke="#111" stroke-width="0.4">B</text>
<line x1="31.0" y1="141.15" x2="31.0" y2="214.10" stroke="#8c8c8c" stroke-width="0.8"/>
<line x1="31.0" y1="214.10" x2="72.8" y2="214.10" stroke="#8c8c8c" stroke-width="0.8"/>
<line x1="29.7" y1="214.10" x2="31.0" y2="214.10" stroke="#8c8c8c" stroke-width="0.6"/>
<text x="28.10" y="216.00" font-size="5.4" text-anchor="end" fill="#3a3a3a" stroke="#3a3a3a" stroke-width="0.12">0</text>
<line x1="29.7" y1="203.75" x2="31.0" y2="203.75" stroke="#8c8c8c" stroke-width="0.6"/>
<text x="28.10" y="205.65" font-size="5.4" text-anchor="end" fill="#3a3a3a" stroke="#3a3a3a" stroke-width="0.12">1</text>
<line x1="29.7" y1="193.40" x2="31.0" y2="193.40" stroke="#8c8c8c" stroke-width="0.6"/>
<text x="28.10" y="195.30" font-size="5.4" text-anchor="end" fill="#3a3a3a" stroke="#3a3a3a" stroke-width="0.12">2</text>
<line x1="29.7" y1="183.05" x2="31.0" y2="183.05" stroke="#8c8c8c" stroke-width="0.6"/>
<text x="28.10" y="184.95" font-size="5.4" text-anchor="end" fill="#3a3a3a" stroke="#3a3a3a" stroke-width="0.12">3</text>
<line x1="29.7" y1="172.70" x2="31.0" y2="172.70" stroke="#8c8c8c" stroke-width="0.6"/>
<text x="28.10" y="174.60" font-size="5.4" text-anchor="end" fill="#3a3a3a" stroke="#3a3a3a" stroke-width="0.12">4</text>
<line x1="29.7" y1="162.35" x2="31.0" y2="162.35" stroke="#8c8c8c" stroke-width="0.6"/>
<text x="28.10" y="164.25" font-size="5.4" text-anchor="end" fill="#3a3a3a" stroke="#3a3a3a" stroke-width="0.12">5</text>
<line x1="29.7" y1="152.00" x2="31.0" y2="152.00" stroke="#8c8c8c" stroke-width="0.6"/>
<text x="28.10" y="153.90" font-size="5.4" text-anchor="end" fill="#3a3a3a" stroke="#3a3a3a" stroke-width="0.12">6</text>
<line x1="29.7" y1="141.65" x2="31.0" y2="141.65" stroke="#8c8c8c" stroke-width="0.6"/>
<text x="28.10" y="143.55" font-size="5.4" text-anchor="end" fill="#3a3a3a" stroke="#3a3a3a" stroke-width="0.12">7</text>
<rect x="33.40" y="180.46" width="2.5" height="33.64" fill="#fff" stroke="#333" stroke-width="0.6"/>
<line x1="34.65" y1="180.46" x2="34.65" y2="178.22" stroke="#555" stroke-width="0.5"/>
<line x1="33.75" y1="178.22" x2="35.55" y2="178.22" stroke="#555" stroke-width="0.5"/>
<rect x="38.15" y="189.67" width="2.5" height="24.43" fill="#111"/>
<line x1="39.40" y1="189.67" x2="39.40" y2="188.47" stroke="#555" stroke-width="0.5"/>
<line x1="38.50" y1="188.47" x2="40.30" y2="188.47" stroke="#555" stroke-width="0.5"/>
<rect x="43.55" y="171.25" width="2.5" height="42.85" fill="#fff" stroke="#333" stroke-width="0.6"/>
<line x1="44.80" y1="171.25" x2="44.80" y2="168.70" stroke="#555" stroke-width="0.5"/>
<line x1="43.90" y1="168.70" x2="45.70" y2="168.70" stroke="#555" stroke-width="0.5"/>
<rect x="48.85" y="174.67" width="2.5" height="39.43" fill="#111"/>
<line x1="50.10" y1="174.67" x2="50.10" y2="172.11" stroke="#555" stroke-width="0.5"/>
<line x1="49.20" y1="172.11" x2="51.00" y2="172.11" stroke="#555" stroke-width="0.5"/>
<rect x="54.25" y="160.28" width="2.5" height="53.82" fill="#fff" stroke="#333" stroke-width="0.6"/>
<line x1="55.50" y1="160.28" x2="55.50" y2="154.62" stroke="#555" stroke-width="0.5"/>
<line x1="54.60" y1="154.62" x2="56.40" y2="154.62" stroke="#555" stroke-width="0.5"/>
<rect x="59.45" y="175.81" width="2.5" height="38.30" fill="#111"/>
<line x1="60.70" y1="175.81" x2="60.70" y2="173.25" stroke="#555" stroke-width="0.5"/>
<line x1="59.80" y1="173.25" x2="61.60" y2="173.25" stroke="#555" stroke-width="0.5"/>
<rect x="64.35" y="206.23" width="2.5" height="7.87" fill="#fff" stroke="#333" stroke-width="0.6"/>
<line x1="65.60" y1="206.23" x2="65.60" y2="204.92" stroke="#555" stroke-width="0.5"/>
<line x1="64.70" y1="204.92" x2="66.50" y2="204.92" stroke="#555" stroke-width="0.5"/>
<rect x="69.05" y="208.51" width="2.5" height="5.59" fill="#111"/>
<line x1="70.30" y1="208.51" x2="70.30" y2="207.20" stroke="#555" stroke-width="0.5"/>
<line x1="69.40" y1="207.20" x2="71.20" y2="207.20" stroke="#555" stroke-width="0.5"/>
<path d="M34.25,142.9L34.25,141.8L65.0,141.8L65.0,142.9" fill="none" stroke="#666" stroke-width="0.55"/>
<text x="49.62" y="142.70" font-size="5.4" text-anchor="middle" fill="#222" stroke="#222" stroke-width="0.12">**</text>
<path d="M39.4,147.1L39.4,146.0L70.8,146.0L70.8,147.1" fill="none" stroke="#666" stroke-width="0.55"/>
<text x="55.10" y="146.90" font-size="5.4" text-anchor="middle" fill="#222" stroke="#222" stroke-width="0.12">**</text>
<path d="M34.25,151.4L34.25,150.3L55.9,150.3L55.9,151.4" fill="none" stroke="#666" stroke-width="0.55"/>
<text x="45.08" y="151.20" font-size="5.4" text-anchor="middle" fill="#222" stroke="#222" stroke-width="0.12">**</text>
<path d="M39.3,156.0L39.3,154.9L61.2,154.9L61.2,156.0" fill="none" stroke="#666" stroke-width="0.55"/>
<text x="50.25" y="155.80" font-size="5.4" text-anchor="middle" fill="#222" stroke="#222" stroke-width="0.12">**</text>
<path d="M34.25,164.0L34.25,162.9L45.3,162.9L45.3,164.0" fill="none" stroke="#666" stroke-width="0.55"/>
<text x="39.77" y="163.80" font-size="5.4" text-anchor="middle" fill="#222" stroke="#222" stroke-width="0.12">*</text>
<path d="M39.3,168.4L39.3,167.3L50.9,167.3L50.9,168.4" fill="none" stroke="#666" stroke-width="0.55"/>
<text x="45.10" y="168.20" font-size="5.4" text-anchor="middle" fill="#222" stroke="#222" stroke-width="0.12">**</text>
<path d="M34.2,177.7L34.2,176.6L39.6,176.6L39.6,177.7" fill="none" stroke="#666" stroke-width="0.55"/>
<text x="36.90" y="177.50" font-size="5.4" text-anchor="middle" fill="#222" stroke="#222" stroke-width="0.12">**</text>
<text x="33.05" y="220.60" font-size="4.8" text-anchor="middle" fill="#222" stroke="#222" stroke-width="0.12" transform="rotate(90 33.05 220.60)">+/+</text>
<text x="37.80" y="220.60" font-size="4.8" text-anchor="middle" fill="#222" stroke="#222" stroke-width="0.12" transform="rotate(90 37.80 220.60)">-/-</text>
<text x="43.20" y="220.60" font-size="4.8" text-anchor="middle" fill="#222" stroke="#222" stroke-width="0.12" transform="rotate(90 43.20 220.60)">+/+</text>
<text x="48.50" y="220.60" font-size="4.8" text-anchor="middle" fill="#222" stroke="#222" stroke-width="0.12" transform="rotate(90 48.50 220.60)">-/-</text>
<text x="53.90" y="220.60" font-size="4.8" text-anchor="middle" fill="#222" stroke="#222" stroke-width="0.12" transform="rotate(90 53.90 220.60)">+/+</text>
<text x="59.10" y="220.60" font-size="4.8" text-anchor="middle" fill="#222" stroke="#222" stroke-width="0.12" transform="rotate(90 59.10 220.60)">-/-</text>
<text x="64.00" y="220.60" font-size="4.8" text-anchor="middle" fill="#222" stroke="#222" stroke-width="0.12" transform="rotate(90 64.00 220.60)">+/+</text>
<text x="68.70" y="220.60" font-size="4.8" text-anchor="middle" fill="#222" stroke="#222" stroke-width="0.12" transform="rotate(90 68.70 220.60)">-/-</text>
<line x1="31.0" y1="226.4" x2="72.8" y2="226.4" stroke="#666" stroke-width="0.8"/>
<line x1="31.0" y1="225.2" x2="31.0" y2="226.4" stroke="#666" stroke-width="0.6"/>
<line x1="42.3" y1="225.2" x2="42.3" y2="226.4" stroke="#666" stroke-width="0.6"/>
<line x1="52.6" y1="225.2" x2="52.6" y2="226.4" stroke="#666" stroke-width="0.6"/>
<line x1="63.3" y1="225.2" x2="63.3" y2="226.4" stroke="#666" stroke-width="0.6"/>
<line x1="72.6" y1="225.2" x2="72.6" y2="226.4" stroke="#666" stroke-width="0.6"/>
<text x="20.00" y="243.60" font-size="7.0" text-anchor="start" fill="#262626" stroke="#262626" stroke-width="0.3" transform="rotate(-31 20.00 243.60)">Control</text>
<text x="37.40" y="241.90" font-size="7.0" text-anchor="start" fill="#262626" stroke="#262626" stroke-width="0.3" transform="rotate(-31 37.40 241.90)">fMLP</text>
<text x="50.40" y="241.00" font-size="7.0" text-anchor="start" fill="#262626" stroke="#262626" stroke-width="0.3" transform="rotate(-31 50.40 241.00)">C5a</text>
<text x="60.40" y="241.70" font-size="7.0" text-anchor="start" fill="#262626" stroke="#262626" stroke-width="0.3" transform="rotate(-31 60.40 241.70)">CytB</text>
<text x="11.40" y="178.50" font-size="8.0" text-anchor="middle" fill="#262626" stroke="#262626" stroke-width="0.3" transform="rotate(-90 11.40 178.50)" textLength="44.50" lengthAdjust="spacingAndGlyphs">2-DG uptake</text>
<text x="20.90" y="177.60" font-size="8.0" text-anchor="middle" fill="#262626" stroke="#262626" stroke-width="0.3" transform="rotate(-90 20.90 177.60)" textLength="51.00" lengthAdjust="spacingAndGlyphs">(nmol/min/mg)</text>
</svg>
</body></html>
